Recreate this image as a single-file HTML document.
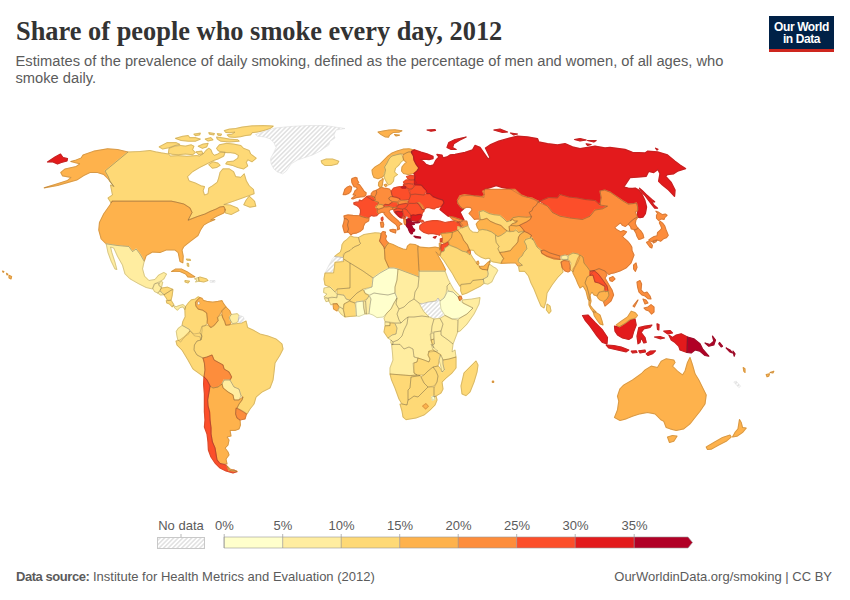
<!DOCTYPE html>
<html>
<head>
<meta charset="utf-8">
<title>Share of people who smoke every day, 2012</title>
<style>
html,body{margin:0;padding:0;background:#fff;}
body{width:850px;height:600px;position:relative;overflow:hidden;font-family:"Liberation Sans",sans-serif;}
#title{position:absolute;left:16px;top:14.7px;font-family:"Liberation Serif",serif;font-weight:bold;font-size:26.4px;line-height:32px;color:#333;white-space:nowrap;letter-spacing:0px;}
#sub{position:absolute;left:15.5px;top:53px;width:740px;font-size:14.7px;line-height:17px;color:#5b5b5b;}
#sub span{display:block;white-space:nowrap;}
#logo{position:absolute;left:769px;top:16px;width:65px;height:33px;background:#002147;border-bottom:3px solid #ce261e;color:#fff;font-weight:bold;font-size:12px;line-height:12px;text-align:center;letter-spacing:-0.4px;}
#logo div{position:absolute;left:0;width:65px;white-space:nowrap;}
#map{position:absolute;left:0;top:0;}
.lg{position:absolute;top:518px;font-size:13px;line-height:15px;color:#5b5b5b;white-space:nowrap;transform:translateX(-50%);}
#foot-l{position:absolute;left:16px;top:569px;font-size:13px;line-height:16px;color:#5b5b5b;white-space:nowrap;}
#foot-l b{letter-spacing:-0.45px;}
#foot-r{position:absolute;right:18px;top:569px;font-size:13px;line-height:16px;color:#5b5b5b;white-space:nowrap;}
</style>
</head>
<body>
<svg id="map" width="850" height="600" viewBox="0 0 850 600">
<defs>
<pattern id="hatch" patternUnits="userSpaceOnUse" width="3.2" height="3.2" patternTransform="rotate(45)">
<rect width="3.2" height="3.2" fill="#fff"/>
<line x1="0.8" y1="0" x2="0.8" y2="3.2" stroke="#dedede" stroke-width="1.4"/>
</pattern>
</defs>
<g id="countries" stroke-linejoin="round">
<!--MAP-->
<path d="M128,152L117.5,149.5L107.5,148.8L93.8,151.2L83,155L81.2,158L76.2,160L70.8,161.5L80,163.8L76.2,166.5L65,169L60.8,172.5L62.5,175.8L71.2,177.5L67.5,180.5L55,184.5L44.2,187.8L57.5,185.5L70,181.8L76.8,180L83.8,175.5L90,172.5L97.5,172.5L103.8,174.5L107.5,178L111.2,183L113.8,186.5L110,181.2L108,176.2L105,171Z" fill="#feb24c" stroke="#feb24c" stroke-width="1.2"/>
<path d="M47.5,162L55,157L60.5,154L63,157.5L67.5,158.5L67,161L61.2,162.5L57.5,164L53,162Z" fill="#e31a1c" stroke="#e31a1c" stroke-width="1.2"/>
<path d="M128,152L140,151.5L150,150.5L155.7,151.9L161.3,152.9L168.4,154L170.5,156.1L178.3,155.7L186.8,156.3L196.7,155.6L199.6,156.1L203.8,153.3L205.9,150.5L208.8,148.3L210.9,149.7L212.3,153.3L214.4,155.4L218,154L220.8,152L225.1,152.3L223.7,156.1L218,159L213.7,160.4L212.3,161.1L206.7,163.9L199.6,167.5L192.5,171.7L187.5,176.7L189,180.9L195.3,183L201,185.9L204.5,186.6L203.1,190.8L204.5,195.1L208.1,193.7L208.8,188L212.3,185.9L217.3,182.3L218.7,178.1L220.1,172.4L222.9,168.9L229.3,168.9L233.6,171.7L235.7,176.7L240.7,177.4L244.2,173.8L246.3,180.9L249.2,185.9L253.4,189.4L254.1,193.7L243.8,197.5L232.5,201.5L223.8,204.5L230,205L237.5,208L239,210.5L231.2,214.5L225.5,213L224.5,209.5L225.5,210L223.7,206.5L220,207L216.2,209L210,211.5L205,214L197.5,216.5L188,220.5L192,212.5L190,208L183.7,204L175.5,202L171.2,201.2L112,201.2L111.2,203L108,198L112.5,195L110.5,185L113.8,186.5L110,181.2L108,176.2L105,171Z" fill="#fed976" stroke="#fed976" stroke-width="1.2"/>
<path d="M249.2,196.2L254.5,201.2L255.8,206.2L250,207.2L243.8,204.8L246.2,200Z" fill="#fed976" stroke="#fed976" stroke-width="1.2"/>
<path d="M208.8,164.6L213,161.8L218,163.2L220.1,165.3L216.6,167.5L212.3,168.2Z" fill="#fed976" stroke="#fed976" stroke-width="1.2"/>
<path d="M216.6,148.3L219.4,144.8L226.5,143.4L233.6,144.1L240.7,145.5L243.5,148.3L249.2,150.5L250.6,154L256.2,158.2L252,161.8L247.7,159.7L246.3,162.5L247.7,166L243.5,168.9L237.8,167.5L232.2,165.3L225.8,163.9L227.2,161.8L233.6,161.1L237.8,158.2L238.5,155.4L235,153.3L230.7,152.6L227.2,152.6L225.1,152.3L220.8,151.9L218,150.5Z" fill="#fed976" stroke="#fed976" stroke-width="1.2"/>
<path d="M168.4,153.3L169.1,148.3L174.8,146.2L180.5,145.5L185.4,146.2L191.1,144.8L193.9,146.2L192.5,149.7L195.3,152.6L192.5,154.7L185.4,154L178.3,154.7L172.7,154.3Z" fill="#fed976" stroke="#fed976" stroke-width="1.2"/>
<path d="M159.2,146.9L167,142.7L176.2,142.7L179.7,144.4L174.8,145.5L169.1,147.6L162.7,149Z" fill="#fed976" stroke="#fed976" stroke-width="1.2"/>
<path d="M198.2,146.2L203.1,144.1L208.1,143.4L206.7,146.9L202.4,148.3Z" fill="#fed976" stroke="#fed976" stroke-width="1.2"/>
<path d="M196,151.9L201.7,151.2L203.1,153.7L198.9,154.7Z" fill="#fed976" stroke="#fed976" stroke-width="1.2"/>
<path d="M175.5,138.4L182.6,136.3L188.2,135.6L189.7,137.7L195.3,137.7L200.3,139.1L195.3,141.2L188.2,141.2L181.2,140.5Z" fill="#fed976" stroke="#fed976" stroke-width="1.2"/>
<path d="M205.2,139.1L210.9,137.7L213,139.8L208.1,141Z" fill="#fed976" stroke="#fed976" stroke-width="1.2"/>
<path d="M216.6,137L223.7,138.1L229.3,139.1L237.8,139.8L239.2,141.2L229.3,142L220.8,141.2L217.3,139.1Z" fill="#fed976" stroke="#fed976" stroke-width="1.2"/>
<path d="M193.9,134.2L200.3,133.2L199.6,134.9L195.3,135.6Z" fill="#fed976" stroke="#fed976" stroke-width="1.2"/>
<path d="M208.8,132.7L214.4,133.5L213.7,134.9L209.5,134.2Z" fill="#fed976" stroke="#fed976" stroke-width="1.2"/>
<path d="M217.3,133.7L221.5,134.2L220.8,135.6L218,135.2Z" fill="#fed976" stroke="#fed976" stroke-width="1.2"/>
<path d="M224.4,130.6L229.3,129.2L235.7,128.5L242.1,127.1L252,125.9L263.3,125.7L270,125.9L273.2,126.2L270,128.5L263.3,130.6L257.6,132L252,132.7L250.6,134.9L244.9,135.6L240.7,136.7L235,137.3L229.3,137L227.2,134.9L232.2,134.2L235,132L229.3,132.7L225.8,132.5Z" fill="#fed976" stroke="#fed976" stroke-width="1.2"/>
<path d="M112,201.2L171.2,201.2L175.5,202L183.8,204L190,208L192,212.5L188,220L197.5,216.5L205,214L210,211.5L216.2,209L220,207L223.8,206.5L225.5,210L223.8,213L216.2,216.5L210.5,220L215,219.5L208,222.5L203.8,225L200.5,230L198,235.5L190,241.5L183.8,246.5L182,250L183.2,256.2L182.8,262.8L180,261.5L178.2,252.5L175,250L166.2,250L160,252.5L152.5,252L146.2,255.5L144.2,261.2L140,254L136.2,249L132.5,251.5L128.8,246.5L117.5,245.5L106.2,243.8L101.2,238.8L98.8,230L99.5,222.5L103.8,213.8L110,205Z" fill="#feb24c" stroke="#feb24c" stroke-width="1.2"/>
<path d="M106.2,243.8L108,252.5L111.2,261.2L115,269L116.8,269.5L115,262.5L111.8,252.5L110.5,247L113.8,248L117.5,256.2L122.5,265L125,273.8L130,278.8L138.8,283.8L146.2,287.5L152.5,289L154,284L160,281.5L163.8,279L166.5,274L163.8,272.5L158.8,275L155,279.5L148.8,280.5L144.5,276.2L142.5,268.8L144.2,261.2L140,254L136.2,249L132.5,251.5L128.8,246.5L117.5,245.5Z" fill="#ffeda0" stroke="#ffeda0" stroke-width="1.2"/>
<path d="M152.7,288.1L155.3,283.5L159.1,283L158.8,285.3L161.4,287.6L159.9,290.7L157.6,293L154.5,291.5Z" fill="#ffeda0" stroke="#ffeda0" stroke-width="1.2"/>
<path d="M159.1,283L161.4,281.5L162.7,282.3L161.4,287.5L158.8,285.3Z" fill="#ffeda0" stroke="#ffeda0" stroke-width="1.2"/>
<path d="M161.4,288.1L167.6,287.2L172.6,289.2L170.2,290.8L166.8,293L164,294.7L162.2,292.7L159.9,290.7Z" fill="#fed976" stroke="#fed976" stroke-width="1.2"/>
<path d="M157.6,293L159.9,291.2L162.5,293L163.7,294.7L160.7,295Z" fill="#ffeda0" stroke="#ffeda0" stroke-width="1.2"/>
<path d="M164,294.8L170.2,290.8L172.9,289.6L172.2,295.3L171.1,300L167.6,300.4L166,297.6Z" fill="#fed976" stroke="#fed976" stroke-width="1.2"/>
<path d="M166.3,300.7L171.1,300.4L173.7,304.6L172.2,306.9L169.6,304L166.8,303Z" fill="#fed976" stroke="#fed976" stroke-width="1.2"/>
<path d="M172.9,305L176,306.8L179.1,305.6L182.9,304.5L185.5,306.8L184.9,309.6L182.9,306.8L179.8,307.7L177.5,310.2L174.8,308Z" fill="#ffeda0" stroke="#ffeda0" stroke-width="1.2"/>
<path d="M171.5,271.5L175.7,269L181.4,269L187.1,271.8L192.7,275.4L194.9,276.8L191.3,277.2L187.8,276.8L185.7,274L180,271.5L175,271.1Z" fill="#feb24c" stroke="#feb24c" stroke-width="1.2"/>
<path d="M185,280.5L189.5,281.2L188,283L185,282Z" fill="#fed976" stroke="#fed976" stroke-width="1.2"/>
<path d="M194.5,278.8L198.5,277.5L199,281.2L195.5,282L197,280Z" fill="#ffeda0" stroke="#ffeda0" stroke-width="1.2"/>
<path d="M198.5,277.5L200,277L206.2,278.8L208,280.5L203.8,282L199,281.2Z" fill="#fed976" stroke="#fed976" stroke-width="1.2"/>
<path d="M210,280.5L215,280.5L215,282.2L210,282.2Z" fill="url(#hatch)" stroke="#ddd" stroke-width="0.6"/>
<path d="M186.4,259.1L190.2,259.4L190.5,260.5L187.1,260.2Z" fill="#fed976" stroke="#fed976" stroke-width="1.2"/>
<path d="M187.1,263.3L188.5,263.6L188.8,266.4L187.4,265.9Z" fill="#fed976" stroke="#fed976" stroke-width="1.2"/>
<path d="M9,275.3L11.6,276.6L11,279L9,278Z" fill="#feb24c" stroke="#feb24c" stroke-width="1.2"/>
<path d="M6.5,273.4L8,274.2L7,275Z" fill="#feb24c" stroke="#feb24c" stroke-width="1.2"/>
<path d="M2.5,271L4,271.6L3.2,272.4Z" fill="#feb24c" stroke="#feb24c" stroke-width="1.2"/>
<path d="M202,326L207,325L212,327.6L214.3,325.2L218.1,320.6L217.7,317.8L220.1,315.2L222,314.8L222.7,317.5L224.7,321.4L225.8,325.2L231,324.4L237,323.6L242,323L246,321L247.6,327.6L253,330L260,334L268,336L276,339L282,344L283,349L280,355L275,363L274,372L273,380L270,388L262,392L256,397L254,404L250,409L247,414L243,411L237,408L239,404L242,400L243,397L241,395.6L239,389L234,387L230,380L231.6,377L229,372L224,369L223,365L214,360L212,355L207,357L203,358L197,355L194,350L194.4,345L197,341L201,340L202,336L200,332.4L201,329Z" fill="#fed976" stroke="#fed976" stroke-width="1.2"/>
<path d="M184.9,309.6L185.5,306.8L188.3,303L191.3,299.9L195.2,299.1L198.2,296.8L199.8,297.6L197.5,299.9L195.6,302.2L195.9,306L198.2,309.1L202.8,310.2L206.7,312.9L207.4,319.1L206.7,323.7L205.1,326L202.1,326.7L202.1,330.6L200.8,339.8L199.8,336.7L194.4,335.9L191.3,332.1L189,329L186,327.5L182.1,325.2L182.9,321.4L185.2,316.8Z" fill="#fed976" stroke="#fed976" stroke-width="1.2"/>
<path d="M199.8,297.6L202.1,298.4L203.3,300.4L206.7,301.4L212.8,302.2L218.1,301.4L222,300.7L223.2,303L225.8,306.8L222,310.6L219.7,314.5L217.4,317.5L218.1,320.6L214.3,325.2L210.5,327.5L207.4,322.9L207.4,319.1L206.7,312.9L202.8,310.2L198.2,309.1L195.9,306L195.6,302.2L197.5,299.9Z" fill="#feb24c" stroke="#feb24c" stroke-width="1.2"/>
<path d="M197.9,301.9L199.3,301.4L199.8,303.7L198.5,305L197.6,303.7Z" fill="#ffffff" stroke="none"/>
<path d="M225.8,306.8L229.6,310.6L231.2,314.5L229.3,317.5L231.2,322.1L229.6,324.9L225.8,325.2L224.7,321.4L222.7,317.5L222,314.5L222,310.6Z" fill="#feb24c" stroke="#feb24c" stroke-width="1.2"/>
<path d="M231.2,314.5L237.3,313.7L239.2,316L238.1,321.4L235.8,322.9L232.7,323.7L229.6,319.1L229.6,316.8Z" fill="#ffeda0" stroke="#ffeda0" stroke-width="1.2"/>
<path d="M239.2,315.2L243.4,316.8L244.2,319.1L241.1,322.9L238.5,322.1L238.1,319.1Z" fill="url(#hatch)" stroke="#ddd" stroke-width="0.6"/>
<path d="M182.1,325.5L186,327.5L189.8,329.8L189,333.6L186,335.9L182.9,339L180.6,342.1L177.8,339.8L176.8,335.2L176.3,331.3L178.3,328.3Z" fill="#ffeda0" stroke="#ffeda0" stroke-width="1.2"/>
<path d="M176,341L180,340L184,337L190,331L194,334L200,333L202,336L201,340L197,341L194.4,345L194,350L197,355L203,358L204.4,363L205,370L204,377L200,374L193,369L188,360L182,350L177,345Z" fill="#fed976" stroke="#fed976" stroke-width="1.2"/>
<path d="M203,358L207,357L212,355L214,360L223,365L224,369L229,372L231.6,377L230,380L224,380L222,384L218,387L213,388L210,386L207,380L204,377L205,370L204.4,363Z" fill="#fd8d3c" stroke="#fd8d3c" stroke-width="1.2"/>
<path d="M224,380L230,380L234,387L239,389L241,395.6L239,400L234,400L233,395L228,392L223,388L222,384Z" fill="#ffeda0" stroke="#ffeda0" stroke-width="1.2"/>
<path d="M213,388L218,387L222,384L223,388L228,392L233,395L234,400L239,400L243,397L242,400L239,404L237,408L236,409L235.6,414L237,418L240,420L240.4,425L239,429L235,430.4L230,430.4L231,436L227,437L229,440L228,445L225,448L228,452L229,455L226,459L227,464L220,463.6L217,460L216,454L215,448L212.4,442L211,434L211,428L210,420L209.6,412L208,406L207.6,400L209,392L210,386Z" fill="#feb24c" stroke="#feb24c" stroke-width="1.2"/>
<path d="M204,377L207,380L210,386L209,392L207.6,400L208,406L209.6,412L210,420L211,428L211,434L212.4,442L215,448L216,454L217,460L220,463.6L226,465L227,467L230,470.4L234,470L237,471.6L233,473L226,471L220,468L215,463L211,457L208.4,450L208,442L207,434L204.4,427L205,420L204.4,412L204.4,400L204.4,394L203.6,384Z" fill="#fc4e2a" stroke="#fc4e2a" stroke-width="1.2"/>
<path d="M227,466L230,469L237,471.4L233,471L229,470.4Z" fill="#feb24c" stroke="#feb24c" stroke-width="1.2"/>
<path d="M236,408L240,410L246.4,414L245,419L240,420L237,418L235.6,414Z" fill="#fd8d3c" stroke="#fd8d3c" stroke-width="1.2"/>
<path d="M255.5,134.5L262.5,132L275,128L290,126.5L307.5,125.5L325,125.5L335,127L345,128.5L336.2,130L333.8,135L335,138L330,141.2L328.8,145L325,147.5L320,151.2L312.5,155L305,157.5L297.5,160L291.2,163.8L286.2,171.2L282.5,173.8L277.5,172L273.8,168.8L271.2,163.8L270.5,158.8L273.8,152.5L276.2,147.5L273.8,142.5L270,138.8L265,137L257.5,136.2Z" fill="url(#hatch)" stroke="#ddd" stroke-width="0.6"/>
<path d="M321.2,160.8L326.2,159L332.5,159L338.8,161.2L337.5,163.8L331.2,165.5L325,165.5L322,163.2Z" fill="#fed976" stroke="#fed976" stroke-width="1.2"/>
<path d="M378,132L383,131L389,130L395,129.8L402,130.8L399,132.2L393,132.5L389.5,135L388.5,137.2L385,136.8L381,134.5Z" fill="#feb24c" stroke="#feb24c" stroke-width="1.2"/>
<path d="M394.5,134.5L399.5,135.2L396,136Z" fill="#feb24c" stroke="#feb24c" stroke-width="1.2"/>
<path d="M372,170L375,167L380,164L384,160L388,156L392,153L397,151L403,149.2L409,148.8L414.5,150L411.5,151.5L412,153.2L409,151.8L406,153L404,154.5L401,153.5L397,154.5L391.5,156L389,159L386.5,164L384.5,167L385.5,170L385,174L382.5,177L378,178.8L374,177.5L372.5,174Z" fill="#feb24c" stroke="#feb24c" stroke-width="1.2"/>
<path d="M391.5,156.2L397,154.7L401,154L403,157L403.5,160L401,162L399,165L395.5,168L394.5,172L397,174.5L397.5,174.5L394,177L393.5,181L391,184L388.5,185L386.5,182L384.5,178L384,174L385.5,170L384.5,167L386.5,164L389,159Z" fill="#fed976" stroke="#fed976" stroke-width="1.2"/>
<path d="M403.3,154.3L406,153L409,151.8L411.5,151.8L412,153.5L413.5,156L414,160L416,164L419,168L417,171L414,173.5L408,174.5L403.5,173.5L401.5,171L402,167L404.5,164L406.5,162L404,160.5L403,157.2Z" fill="#feb24c" stroke="#feb24c" stroke-width="1.2"/>
<path d="M343.2,194.5L344.2,191.6L344.9,189.2L347.4,187.1L349.9,186L351.6,187.1L351.3,189.2L350.6,191.6L348.8,193.4L346,194.5Z" fill="#fd8d3c" stroke="#fd8d3c" stroke-width="1.3"/>
<path d="M352,178.5L355,177.5L357,178L357.2,180L358.7,182.5L357.3,184.2L359.4,184.6L361.2,187.1L362.9,189.5L364.3,191.6L366.1,192.7L365.8,195.2L364,196.6L360.5,196.9L356.2,197.6L353.1,198.9L351.6,198.5L354.1,196.6L355.9,195.2L353.1,194.8L354.1,193.1L355.2,190.6L357.3,189.2L356.6,187.1L354.1,186.7L353.1,184.9L352,182.8L351.6,180Z" fill="#fd8d3c" stroke="#fd8d3c" stroke-width="1.3"/>
<path d="M353.8,202.9L356.2,202.2L359.1,201.9L359.4,200.1L361.9,200.8L364.3,198.7L366.8,196.6L368.2,197.6L370.3,198.7L372.1,200.1L374.6,200.5L376,201.5L378.5,202.2L377.8,204L376.7,205.8L375.6,207.2L376.7,208.2L377.4,210.3L377.1,212.1L378.5,213.5L376.7,215.6L373.9,216L371.1,215.3L369.3,217.1L366.8,217.8L363.3,217.1L360.5,216.3L359.8,215.3L360.5,212.5L360.5,209.6L359.1,207.2L356.9,205.4L354.1,204.3Z" fill="#fc4e2a" stroke="#fc4e2a" stroke-width="1.3"/>
<path d="M381.3,218.1L382.7,217.1L383,219.5L382.2,220.9L381.3,219.9Z" fill="#fc4e2a" stroke="#fc4e2a" stroke-width="1.3"/>
<path d="M344,216L348,215L353,215.5L360,215.8L365,217.5L369,218.5L368.5,221L365,223L363.5,226L363,229L360,231.5L356.5,233L352.5,233.5L351,235L349.5,233L347.5,232L348.5,229L347.5,225L348.5,221L347,219L344.5,218.5Z" fill="#fd8d3c" stroke="#fd8d3c" stroke-width="1.3"/>
<path d="M344.5,218.5L347,219L348.5,221L347.5,225L348.5,229L347.5,232L344.5,232.5L343.5,229L342.8,226L344,222Z" fill="#fd8d3c" stroke="#fd8d3c" stroke-width="1.3"/>
<path d="M366.8,196.6L368.2,196.1L371.1,195.9L373.5,196.6L374.9,198L375.3,200.1L374.6,200.5L372.1,200.1L370.3,198.7L368.2,197.6Z" fill="#fc4e2a" stroke="#fc4e2a" stroke-width="1.3"/>
<path d="M371.1,195.9L371.4,193.4L373.2,191.3L376.3,190.4L376.7,192.4L376,194.8L374.9,196.6L374.9,198L373.5,196.6Z" fill="#fd8d3c" stroke="#fd8d3c" stroke-width="1.3"/>
<path d="M376.3,190.4L379.5,188.5L381.3,187.4L383.8,188.1L386.6,188.5L389.4,189.2L391.2,191.3L391.9,194.8L392.9,196.6L390.8,196.6L388.7,198L389.4,199.8L392.2,201.5L390.8,203.3L388.7,204.7L385.2,204.3L383,204.8L380.9,204.3L378.5,204L378.5,202.2L376,201.5L374.6,200.5L375.3,200.1L374.9,198L374.9,196.6L376,194.8L376.7,192.4Z" fill="#fd8d3c" stroke="#fd8d3c" stroke-width="1.3"/>
<path d="M378.5,185.3L378.8,182.5L380.2,180.7L382,180L382.3,178.6L383.2,178.9L382.7,182.1L382.3,184.9L381.6,187.1L379.9,187.4Z" fill="#feb24c" stroke="#feb24c" stroke-width="1.3"/>
<path d="M384.1,184.9L386.2,184.2L387.1,185.6L385.5,186.5Z" fill="#feb24c" stroke="#feb24c" stroke-width="1.3"/>
<path d="M375.6,207.2L376.7,205.8L378.5,204.7L380.9,204.5L383,205.1L384.1,206.5L383,207.9L380.6,208.6L378.8,209.3L377.1,208.6Z" fill="#feb24c" stroke="#feb24c" stroke-width="1.3"/>
<path d="M383.8,205.8L385.2,204.5L388.7,204.8L390.8,203.4L393.6,201.7L396.5,202L398.6,203.3L398.2,205.8L396.5,207.2L392.9,207.5L389.4,206.5L386.6,206.8L384.5,206.8Z" fill="#fc4e2a" stroke="#fc4e2a" stroke-width="1.3"/>
<path d="M388.7,198L390.8,196.6L392.9,196.6L396.5,197.3L400,198.7L398.9,200.8L396.5,201.9L393.6,201.5L392.2,201.5L389.4,199.8Z" fill="#fd8d3c" stroke="#fd8d3c" stroke-width="1.3"/>
<path d="M391.2,191.3L393.6,188.1L397.2,187.1L400,186.7L401,187L408,188.5L409.5,193L410.5,196.5L409,199.5L404,200L400,200L400,198.7L396.5,197.3L392.9,196.6L391.9,194.8Z" fill="#fc4e2a" stroke="#fc4e2a" stroke-width="1.3"/>
<path d="M398,202.2L401,200.5L408,201L407.5,203L403,204L399.5,204.5L397.5,203.8Z" fill="#fd8d3c" stroke="#fd8d3c" stroke-width="1.3"/>
<path d="M396.5,205.9L398.5,205L402.1,204.1L405.6,203.5L408.2,203.8L407.6,205.3L406.8,206.8L404.7,208.2L402.6,208.8L400.6,208.8L397.9,208.2L397.1,207.4Z" fill="#fc4e2a" stroke="#fc4e2a" stroke-width="1.3"/>
<path d="M392.9,207.7L396.5,207.3L397.2,208.6L395,209.6L392.6,209.3Z" fill="#fd8d3c" stroke="#fd8d3c" stroke-width="1.3"/>
<path d="M393.8,210L395.6,208.8L397.9,208.2L400.6,208.8L402.6,209.4L402.6,211.5L400.9,211.8L397.9,211.5L395.3,211.8L396.2,213.2L397.6,214.7L399.1,216.5L400.9,217.4L402.1,218.2L400.3,217.6L398.2,215.9L396.2,214.1L394.7,212.4L394.1,211.2Z" fill="#fc4e2a" stroke="#fc4e2a" stroke-width="1.3"/>
<path d="M395.3,211.8L397.9,211.5L400.9,211.8L402.6,211.5L402.6,213.5L403.2,215.3L402.4,216.5L400.9,217.4L399.1,216.5L397.6,214.7L396.2,213.2Z" fill="#e31a1c" stroke="#e31a1c" stroke-width="1.3"/>
<path d="M402.6,209.4L404.7,208.8L406.8,209.7L408.2,211.8L409.7,213.5L410.9,215.4L411.2,217.4L410.6,218.8L408.5,218.7L407.1,217.6L406.2,216.8L405.3,217.4L404.4,216.8L403.8,214.7L403.2,212.4L402.6,210.9Z" fill="#fc4e2a" stroke="#fc4e2a" stroke-width="1.3"/>
<path d="M406.1,216.9L407.2,216.8L408.1,217.9L407.2,218.8L406.2,218.4Z" fill="url(#hatch)" stroke="#ddd" stroke-width="0.6"/>
<path d="M402.4,216.5L403.8,215.9L405,217.1L404.7,218.2L403.8,219.1L402.9,217.9Z" fill="#fc4e2a" stroke="#fc4e2a" stroke-width="1.3"/>
<path d="M404.1,219.1L405.6,218.8L406.5,220L406.8,221.9L406.9,223.5L405.9,224.7L404.7,224.4L404.1,222.4L403.9,220.6Z" fill="#fd8d3c" stroke="#fd8d3c" stroke-width="1.3"/>
<path d="M406.5,219.7L408.2,218.8L410.3,219.1L411.5,220.3L410.9,221.5L408.5,222.1L406.8,221.8Z" fill="#b10026" stroke="#b10026" stroke-width="1.3"/>
<path d="M406.8,221.9L408.5,222.2L410.9,221.6L412.1,222.1L414.4,222.4L416.8,221.8L419.1,220.9L420.3,221.5L419.1,222.6L417.1,222.9L415,222.6L413.2,223.2L414.4,224.4L412.6,224.7L411.5,223.8L410.9,224.7L412.1,226.5L412.9,228.2L414.7,229.7L414.4,230.9L412.6,231.8L412.4,233.5L411.2,233.8L409.7,232.1L408.8,230L408.2,228.2L407.1,226.8L406.2,225.3L406.8,223.5Z" fill="#b10026" stroke="#b10026" stroke-width="1.3"/>
<path d="M414,236.2L417,236.6L420.5,237.2L420.5,238.1L416,237.7Z" fill="#b10026" stroke="#b10026" stroke-width="1.3"/>
<path d="M377.4,210.3L377.1,208.6L378.8,209.3L380.6,208.6L383,207.9L384.5,207L386.6,207L389.4,206.6L392.9,207.7L392.6,209.3L390.5,209.6L389,211.1L390.1,213.2L392.6,216L395.8,218.8L398.6,221.3L399,222L402,224L400,224.5L399,226.5L399.5,229L397.5,229.8L397.5,227L396,224.5L392,221.5L389,219L386,216L384,213.5L384.5,212.5L381.6,212.1L379.5,213.2L378.5,213.5L377.1,212.1Z" fill="#fd8d3c" stroke="#fd8d3c" stroke-width="1.3"/>
<path d="M389.8,230L393,229.5L396,229.8L395.5,233L393,232.2L390.5,231.2Z" fill="#fd8d3c" stroke="#fd8d3c" stroke-width="1.3"/>
<path d="M380.5,222.5L383,222L383.7,224.5L383.3,227L381.2,227.2Z" fill="#fd8d3c" stroke="#fd8d3c" stroke-width="1.3"/>
<path d="M406.5,176.5L410,175.5L415,176L415,179.5L411,180L408,179Z" fill="#fc4e2a" stroke="#fc4e2a" stroke-width="1.3"/>
<path d="M403.5,182L406,180L411,180L415,180L416.5,183L413,184L408.5,183.5L404.5,184Z" fill="#fc4e2a" stroke="#fc4e2a" stroke-width="1.3"/>
<path d="M403.5,184.5L408.5,183.7L413,184.2L414,186.5L412,189L408,188.5L406,186.5L403.5,186Z" fill="#fc4e2a" stroke="#fc4e2a" stroke-width="1.3"/>
<path d="M401,187L404,186L406,187L405.5,188.2L402,188.2Z" fill="#e31a1c" stroke="#e31a1c" stroke-width="1.3"/>
<path d="M409.5,189.5L412,189L414,186.5L416.5,184L421.5,185L424,188L426.5,190.5L425,193L424,195L420,194.5L415,194L410.5,194.5L410,191.5Z" fill="#fc4e2a" stroke="#fc4e2a" stroke-width="1.3"/>
<path d="M409,200L410.5,195L415,194.2L420,194.7L424,195.2L426.5,193.5L430,193.5L433,196.5L438,198.5L443,200L444,203L442,206L439,207L436,207.5L434.5,208.8L432,208.5L428.5,207.5L426.5,207.5L423.5,210L421.5,207.5L419.5,204L417,203L413,203.5L410,203.5L408.5,202.5Z" fill="#fc4e2a" stroke="#fc4e2a" stroke-width="1.3"/>
<path d="M417.1,202.9L419.1,202.6L421.2,204.4L422.9,206.5L424.1,208.8L423.8,209.7L421.8,209.4L420.9,207.6L419.1,205Z" fill="#fd8d3c" stroke="#fd8d3c" stroke-width="1.3"/>
<path d="M406.8,206.8L408.2,203.8L410.9,203.2L414.4,203.5L417.1,202.9L419.1,205L420.9,207.6L421.8,209.4L424.1,209.7L423.8,211.5L422.4,212.6L421.8,215L420.3,214.4L417.9,214.7L415.6,215.3L413.2,215L410.9,215.4L409.7,213.5L408.2,211.8L406.8,209.7L404.7,208.8Z" fill="#fc4e2a" stroke="#fc4e2a" stroke-width="1.3"/>
<path d="M410.9,215.6L413.2,215L415.6,215.3L417.9,214.7L420.3,214.4L421.8,215.3L421.2,217.1L420.6,218.8L419.7,220L417.9,220.9L416.2,221.2L413.8,220.9L411.8,220.3L410.6,218.9L411.2,217.4Z" fill="#e31a1c" stroke="#e31a1c" stroke-width="1.3"/>
<path d="M414.5,150L421,152.2L427,154L433,156.5L433,158.5L429,159.5L424,159L420.5,159.5L423.5,161.8L426,164.5L430,166L433.5,165L435.5,161L437,159L439,157L437,154.5L442,155.2L443,158L447,157L450,155L455,154.5L465,152.5L472.5,150L475,145.5L480,147.5L488,159L490,157.5L485.5,148L490,145L498.7,141.2L507.5,138.7L517.5,136.2L527.5,137L537.5,138.7L538.7,142L547.5,143.7L557.5,145L565,143.7L572.5,147L580,148.7L587.5,147.5L595,146.2L605,148L610,147.5L625,149.5L632.5,152.5L645,153L647.5,151.2L657.5,152L667.5,155L675,161.2L680,165L685.5,168.7L677.5,171.2L673.7,173.7L667.5,174.5L665.5,176.2L671.2,182.5L675,190L674.5,196.2L668.7,190L662.5,185L658.7,181.2L660,173.7L658,169.5L653.7,172.5L648.7,171.2L646.2,176.2L637.5,177L630,177.5L625,185L623.5,187L628.2,188.2L632.4,188.5L635.3,188.2L638.8,190L641.8,194.1L644.7,200L646.5,207L645.3,213.5L642.9,217L640,217.6L637.6,217L637.6,210.6L637.6,207L636.5,203L634.1,203.5L628.2,204.1L622.4,200.6L616.5,196.5L610.6,192.4L604.7,190L600,190.6L601.2,197.5L600,205L595,200.5L585,199.5L577.5,198L568.7,197L560,194.5L557.5,198L548.7,197.5L540,201.2L538.7,202.5L535,200L528.7,197.5L522.5,196.2L516.2,192.5L510,188.7L502.5,187.5L496.2,185.5L488.7,188L484.5,189L484,197.5L470,195L461.2,196.2L457,201.2L460,206.2L462.5,208.7L464,208.5L460,212L461,214L464,220L460,219.5L456,218L451,216.5L448,216L443,212L440,209.5L442,206L444,203L443,200L438,198.5L433,196.5L430,193.5L427,193.6L426.5,190.5L424,188L421.5,185L416,184.8L414.5,184.8L414.5,180L415,176L414,173.5L417,171L419,168L416,164L414,160L413.5,156L412,153.5L411.5,151.5Z" fill="#e31a1c" stroke="#e31a1c" stroke-width="1.4"/>
<path d="M447,147.5L448.8,142.5L455,139.5L466.2,137L460,140L453.8,143.8L452.5,147.5L456.2,149.5L451.2,149.5Z" fill="#e31a1c" stroke="#e31a1c" stroke-width="1.2"/>
<path d="M493.8,130L500,129L507.5,132L502.5,132.5Z" fill="#e31a1c" stroke="#e31a1c" stroke-width="1.2"/>
<path d="M510.5,133L517.5,134L513.8,135Z" fill="#e31a1c" stroke="#e31a1c" stroke-width="1.2"/>
<path d="M574.5,139.5L580,138.5L586.2,140L580,141Z" fill="#e31a1c" stroke="#e31a1c" stroke-width="1.2"/>
<path d="M587.5,140.5L596.2,140.5L593.8,142Z" fill="#e31a1c" stroke="#e31a1c" stroke-width="1.2"/>
<path d="M586.2,143.8L591.2,144.5L587.5,145.5Z" fill="#e31a1c" stroke="#e31a1c" stroke-width="1.2"/>
<path d="M427,130L435,129.5L435.5,130.5L431,131.2Z" fill="#e31a1c" stroke="#e31a1c" stroke-width="1.2"/>
<path d="M639.4,188.2L642.4,190.6L647.1,195.3L651.8,199.4L654.7,201.8L651.8,201.8L654.1,205.3L657.6,208.2L654.7,208.2L651.8,204.7L648.8,200.6L645.3,195.9L641.8,192.4Z" fill="#e31a1c" stroke="#e31a1c" stroke-width="1.2"/>
<path d="M655.5,148.2L658,149.2L657,150Z" fill="#e31a1c" stroke="#e31a1c" stroke-width="1.2"/>
<path d="M419.8,226L421.5,224.2L423.5,222.9L427,221.6L433,220.6L437,220.6L440,221.2L445,222.5L450,221.7L456,220.5L458.4,222.3L460.7,225L461,228L458,230L453.6,232L451.6,232.3L445.6,233L441,233L439.6,235.2L437.3,234.5L432,233.4L428,233.8L424,232.4L421.5,230.8L419.8,229Z" fill="#fc4e2a" stroke="#fc4e2a" stroke-width="1.2"/>
<path d="M419.1,220.9L420.3,220L422.6,220.3L423.8,221.5L421.8,222.1L420.3,221.5Z" fill="#fc4e2a" stroke="#fc4e2a" stroke-width="1.2"/>
<path d="M433.3,237.4L436.3,236.3L435.1,238.1Z" fill="#e31a1c" stroke="#e31a1c" stroke-width="1.2"/>
<path d="M449.4,216.3L453.9,217.3L459.9,219.3L462.9,220.8L459.9,221.9L456.1,221.6L452.4,219.3Z" fill="#fd8d3c" stroke="#fd8d3c" stroke-width="1.2"/>
<path d="M456.9,222.3L459.9,221.9L462.9,225.3L461.4,226.1L458.9,224.6Z" fill="#fc4e2a" stroke="#fc4e2a" stroke-width="1.2"/>
<path d="M460.3,222.4L463.2,220.8L466.8,221.2L467.9,225.3L465.6,226.5L462.1,227.6L460.9,225.3Z" fill="#fd8d3c" stroke="#fd8d3c" stroke-width="1.2"/>
<path d="M457.4,200.6L459.7,195.9L464.4,194.7L473.8,195.9L482.6,196.5L484.4,194.7L482.6,191.2L485.6,189.4L515,189.4L520.9,194.7L526.8,197.1L532.6,198.2L538.5,201.2L536.2,205.3L533.2,207.6L532.1,210.6L529.1,212.4L531.5,216.5L526.8,217.1L518.5,216.5L513.2,217.6L509.7,220.8L506.8,221.8L503.2,218.2L499.7,215.3L493.8,214.7L489.1,213.5L483.2,210.6L479.1,211.8L480.3,219.4L477.9,218.8L474.4,219.4L471.5,215.9L469.1,213.5L472.1,210L470.9,207.6L466.8,207.1L463.2,208.8L460.3,206.5L457.9,203.5Z" fill="#fd8d3c" stroke="#fd8d3c" stroke-width="1.2"/>
<path d="M479.1,211.8L483.2,210.6L489.1,213.5L493.8,214.7L499.7,215.3L503.2,218.2L506.8,221.8L509.7,220.8L512.6,219.4L515,221.2L517.4,220.8L516.2,222.4L512.6,223.5L510.3,225.3L509.1,226.5L509.7,231.2L506.8,230.6L503.8,228.2L500.9,225.3L495.6,223.5L490.3,221.2L486.8,218.2L483.2,219.4L480.3,219.6Z" fill="#fed976" stroke="#fed976" stroke-width="1.2"/>
<path d="M476.2,224.1L477.9,221.8L480.3,220L483.2,219.6L486.8,218.5L490.3,221.4L495.6,223.8L500.9,225.5L503.8,228.5L506.8,230.8L504.4,232.9L500.9,235.3L497.9,236.5L495.6,234.7L491.5,231.8L486.8,230L482.6,229.4L479.1,230L477.4,227.6Z" fill="#feb24c" stroke="#feb24c" stroke-width="1.2"/>
<path d="M512.6,217.6L518.5,216.7L526.8,217.3L531.5,216.8L530.3,219.4L526.8,221.8L523.2,223.5L519.7,225.3L516.2,225.9L512.6,225.3L510.9,225.3L512.6,223.8L516.2,222.6L517.4,220.8L515,221.2L512.6,219.4L510.3,220.8Z" fill="#feb24c" stroke="#feb24c" stroke-width="1.2"/>
<path d="M509.1,226.7L510.9,225.5L516.2,226.1L519.7,225.5L521.5,227.4L523.2,229.4L524.4,231.2L520.9,231.4L518.5,232.4L516.2,230.6L513.8,231.2L509.7,231.4Z" fill="#feb24c" stroke="#feb24c" stroke-width="1.2"/>
<path d="M457.9,226.5L462.1,228.2L465.6,226.5L467.9,225.9L469.7,229.6L472.6,232L477.9,232.6L479.1,230.2L482.6,229.6L486.8,230.2L491.5,232L495.6,234.9L495.6,238.2L496.2,242.4L499.1,246.5L497.9,248.8L499.7,252.4L502.1,255.9L503.7,258.7L501.9,260.5L500.9,263.3L497.3,262.6L493.1,261.9L490.6,260.8L489.9,258.5L488.2,258.2L485.3,258.8L481.5,257.4L478.3,255.5L475.5,253.4L473.7,250.3L470.2,249.9L469.1,249.5L467.4,244.9L463.7,240.4L461.4,235.1L457.7,230.3Z" fill="#fed976" stroke="#fed976" stroke-width="1.2"/>
<path d="M495.6,235.3L497.9,236.7L500.9,235.5L504.4,233.2L506.8,231.2L509.7,231.8L513.8,231.4L515.9,229.4L518.5,232.6L524.4,231.4L520.3,234.1L518.5,237.1L517.9,241.8L515.6,244.7L513.2,247.1L510.3,250.6L504.4,251.8L499.7,252.4L497.9,248.8L499.1,246.5L496.2,242.4L495.6,238.2Z" fill="#fed976" stroke="#fed976" stroke-width="1.2"/>
<path d="M499.7,252.6L504.4,252L510.3,250.8L513.2,247.3L515.6,244.9L517.9,242L518.5,237.3L520.3,234.4L524.4,231.8L527.9,232.9L531.5,235.3L530.3,238.2L525.6,239.4L524.4,241.8L526.2,245.3L526.8,248.8L523.8,252.4L522.1,255.9L519.1,258.2L517.9,261.5L522.4,265.2L517.9,266L515.6,263L510.4,263L501.3,263.3L503.6,258.5Z" fill="#feb24c" stroke="#feb24c" stroke-width="1.2"/>
<path d="M441.1,233.6L445.6,233.2L452.4,232.4L451.6,237.4L448.6,241.1L444.1,243.4L441.8,241.9L442.6,237.4Z" fill="#feb24c" stroke="#feb24c" stroke-width="1.2"/>
<path d="M440.3,238.9L442.1,238.4L441.8,241.9L440.3,241.9Z" fill="#fc4e2a" stroke="#fc4e2a" stroke-width="1.2"/>
<path d="M439.3,243.4L441.1,242.7L440.8,248.7L439.6,250.2Z" fill="#feb24c" stroke="#feb24c" stroke-width="1.2"/>
<path d="M441.1,244.9L444.8,243.9L448.3,241.9L448.6,244.9L444.8,247.9L444.1,250.9L441.1,252L440.8,247.9Z" fill="#fc4e2a" stroke="#fc4e2a" stroke-width="1.2"/>
<path d="M452.4,232.4L457.7,230.3L461.4,235.1L463.7,240.4L467.4,244.9L469.7,250.2L466.7,252.4L462.2,250.9L456.9,247.9L449.4,244.9L448.6,241.1L451.6,237.4Z" fill="#feb24c" stroke="#feb24c" stroke-width="1.2"/>
<path d="M466.6,251.6L468.4,250.2L470.2,250.6L470.5,253.8L469.1,254.5L467.7,253.1Z" fill="#fd8d3c" stroke="#fd8d3c" stroke-width="1.2"/>
<path d="M441.1,252.4L444.1,251.2L444.8,248.2L449.4,245.4L456.9,248.2L462.2,251.2L466.6,251.9L467.7,253.2L469.1,254.6L470.7,254.3L472.6,257.5L474.8,260.7L476.2,263.1L479,265.5L479.7,267.4L482.2,269.3L485.3,269.6L487.5,270L488.2,273.9L487.5,276.7L482.5,279.5L472.7,280.3L470.5,283.3L461.4,284.1L459.9,286.3L456.1,280.3L452.4,273.5L447.9,266.7L444.1,260.7L440.3,256.2Z" fill="#fed976" stroke="#fed976" stroke-width="1.2"/>
<path d="M460.7,284.8L470.5,283.6L473,280.6L483.3,279.1L484,283.3L480.2,286.3L474.2,289.3L466.7,293.1L462.2,294.6L460.7,290.8Z" fill="#fed976" stroke="#fed976" stroke-width="1.2"/>
<path d="M489.2,264L490.3,264.7L493.1,266.8L495.9,268.2L497.7,270.3L496.3,273.2L494.5,276L493.1,279.2L491.7,282L487.8,284.1L484,283.3L483.3,279.1L482.5,279.5L487.5,276.7L488.2,273.9L487.5,270L488.2,266.8Z" fill="#ffeda0" stroke="#ffeda0" stroke-width="1.2"/>
<path d="M489.6,260.5L490.6,260.8L490.3,262.6L489.4,261.9Z" fill="#ffeda0" stroke="#ffeda0" stroke-width="1.2"/>
<path d="M479.3,266.5L481.5,266.3L483.9,266.1L486.1,264.2L488.2,262.1L489.6,261.5L489.2,264L488.2,266.8L487.5,270L485.3,269.6L482.2,269.3L480.1,268.2Z" fill="#feb24c" stroke="#feb24c" stroke-width="1.2"/>
<path d="M476.9,261.5L478.3,261.2L478.9,263.3L477.9,264.7L476.9,263.6Z" fill="#feb24c" stroke="#feb24c" stroke-width="1.2"/>
<path d="M540,201.2L548.8,197.5L557.5,198L560,194.5L568.8,197L577.5,198L585,199.5L595,200.5L600,205L607.5,206.2L602.5,208.8L595,210L590,216.2L582.5,219.5L570,218L560,216.2L552.5,212.5L547.5,206.2Z" fill="#fc4e2a" stroke="#fc4e2a" stroke-width="1.2"/>
<path d="M538.8,202.5L547.5,206.2L552.5,212.5L560,216.2L570,218L582.5,219.5L590,216.2L595,210L602.5,208.8L607.5,206.2L600,205L601.2,197.5L600,191.2L604.7,190L610.6,192.4L616.5,196.5L622.4,200.6L628.2,204.1L634.1,203.5L636.5,202.9L637.6,207.1L637.6,210.6L635.3,211.8L636.5,215.3L637.4,217.1L634.1,218.8L631.2,221.2L628.2,224.1L625.3,226.5L622.4,225.3L620.6,222.9L618.8,224.1L614.7,227.6L616.5,229.4L620.6,231.8L623.5,230.6L626.5,231.8L625.3,233.5L622.4,236.5L624.7,238.8L627.6,241.2L630,244.1L631.8,247.1L632,250.6L634,255L631,263L626,268L620,271L614,273L611,273.4L609,274.6L605,271L599,268.6L594,270.6L590,271L588,268L584,263L583,257L580,255L578,254L573,253L569,255L565,255L560,256L550,253L544,250L541,250.6L537,247L534,241L532,238L533.2,240L530.3,238.2L531.5,235.3L527.9,232.9L524.4,231.2L523.2,229.4L521.5,227.4L519.7,225.3L523.2,223.5L526.8,221.8L530.3,219.4L531.5,216.8L529.1,212.4L532.1,210.6L533.2,207.6L536.2,205.3L538.5,201.2Z" fill="#fd8d3c" stroke="#fd8d3c" stroke-width="1.2"/>
<path d="M628.2,224.1L631.2,221.2L634.1,218.8L637.1,217.1L637.6,217.6L635.9,220L635.3,223.5L636.5,226.5L638.2,228.2L635.3,230L633.5,229.4L631.2,228.8L630.6,226.5Z" fill="#fd8d3c" stroke="#fd8d3c" stroke-width="1.2"/>
<path d="M634.1,230L638.2,228.5L640.6,230.6L642.9,234.1L643.8,237.6L641.2,238.8L638.8,239.4L637.1,236.5L635.9,232.9Z" fill="#fd8d3c" stroke="#fd8d3c" stroke-width="1.2"/>
<path d="M655.9,211.2L658.8,212.4L662.4,214.7L665.3,214.1L667.1,215.3L664.7,217.6L664.1,219.4L661.2,218.8L658.8,220.6L656.5,218.2L656.5,215.3L657.6,213.5Z" fill="#fd8d3c" stroke="#fd8d3c" stroke-width="1.2"/>
<path d="M660,221.2L662.4,222.9L664.7,225.9L665.9,229.4L667.1,232.4L668.2,235.3L666.5,237.6L663.5,238.8L660.6,241.2L657.6,240L655.3,240.6L652.9,241.8L650.6,241.2L648.8,240L651.2,238.2L654.1,236.5L657.1,235.9L657.6,232.4L660,230.6L661.8,228.2L660.6,225.3L659.4,222.9Z" fill="#fd8d3c" stroke="#fd8d3c" stroke-width="1.2"/>
<path d="M646.5,242.4L648.8,241.2L650.6,242.9L652.4,245.3L651.8,248L650,247.1L648.2,244.7Z" fill="#fd8d3c" stroke="#fd8d3c" stroke-width="1.2"/>
<path d="M652.9,240.6L657.1,240L655.9,241.8L653.5,242.9Z" fill="#fd8d3c" stroke="#fd8d3c" stroke-width="1.2"/>
<path d="M633.6,265L636,263L637,267.4L635.4,271.4L633.6,269Z" fill="#fd8d3c" stroke="#fd8d3c" stroke-width="1.2"/>
<path d="M609.4,278L613,276.6L615,279L612.4,281.4L610,280.6Z" fill="#fd8d3c" stroke="#fd8d3c" stroke-width="1.2"/>
<path d="M525.4,239.6L531.4,237.4L532,238L534,241L537,247L541,250L541.6,253L547,256L554,258L560,259.4L568,259.5L568,256.4L569,255L573,253L578,254L580,257L578,262L575,267L573,272L570,269L571,263L569,260L563,260.6L561,262L562,266L563,272L558,277L552,285L547,293L546,301L544,308L541,306L538,299L534,289L531,283L528.4,275.8L524.7,271.3L519.4,271.3L518.6,266.7L522.4,265.2L517.9,261.5L519.1,258.2L522,255.9L523.8,252.4L526.8,248.8L526.2,245.3L524.4,241.8Z" fill="#fed976" stroke="#fed976" stroke-width="1.2"/>
<path d="M541,251L544,250L550,253L560,256L560,259.4L554,259L547,256.4L542,253.4Z" fill="#fd8d3c" stroke="#fd8d3c" stroke-width="1.2"/>
<path d="M561,256.4L565,255L568.4,256.6L567.6,259.4L562,259.4Z" fill="#ffeda0" stroke="#ffeda0" stroke-width="1.2"/>
<path d="M561,262L564,260.6L569,261.4L570,267L570,271L568,272L565,271L562,267.4Z" fill="#fd8d3c" stroke="#fd8d3c" stroke-width="1.2"/>
<path d="M547,304L550,306L551,311L549,313.4L546.4,310Z" fill="#fed976" stroke="#fed976" stroke-width="1.2"/>
<path d="M578,258L580,255L583,257L584,263L588,268L590,271L594,270.6L590,275L587,277L585,283L587,287L589,294L590,301L588,299L586,291L583,286L580,288L578,284L576,279L573,273L573,269L575,266Z" fill="#feb24c" stroke="#feb24c" stroke-width="1.2"/>
<path d="M587,277.4L590,275.4L593,275L595,282L599,283L605,286L604,291L599,292L597,296L594,295L592,292L590,295L591,301L590,305L593,309L596,312L594,313L591,309L589,305L589,295L587,287L585,283Z" fill="#feb24c" stroke="#feb24c" stroke-width="1.2"/>
<path d="M594,270.6L599,268.6L605,271L607,275L605,278L609,285L612,290L613.6,295L611,301L605,306L603.6,302L607,299L609,295L608,291L607,286L602,279L599,275L597,273Z" fill="#fd8d3c" stroke="#fd8d3c" stroke-width="1.2"/>
<path d="M590,271.4L594,270.6L597,273L599,275L602,279L607,286L608,291L605,292L605,286.4L599,283L595,282L593,275L590,275.4Z" fill="#fc4e2a" stroke="#fc4e2a" stroke-width="1.2"/>
<path d="M597,296L599,292.4L604.4,291.4L608.4,291.4L609,295.4L607,299L603.6,301.4L600,300L598,298Z" fill="#feb24c" stroke="#feb24c" stroke-width="1.2"/>
<path d="M593,311L596,312.4L600,315L602,321L603,325L600,324L597,320L594.4,316Z" fill="#feb24c" stroke="#feb24c" stroke-width="1.2"/>
<path d="M637,282L640,280.6L641.6,284L641,290L644,293L647,292L650,296L651,299L648,298.6L645,296L642,295L639,292L637.6,287Z" fill="#fd8d3c" stroke="#fd8d3c" stroke-width="1.2"/>
<path d="M643,299L646,300L648,303L645,304Z" fill="#fd8d3c" stroke="#fd8d3c" stroke-width="1.2"/>
<path d="M644,308L648,307L651,304.6L654,307L654,312L651.6,314L649,311L646,310Z" fill="#fd8d3c" stroke="#fd8d3c" stroke-width="1.2"/>
<path d="M633,306L637,301L638,300L634.4,307Z" fill="#fd8d3c" stroke="#fd8d3c" stroke-width="1.2"/>
<path d="M582.5,315.5L588,315L595,322.5L602.5,330L607.5,337.5L607,343.8L602.5,342.5L596.2,335L590,326.2L585,320Z" fill="#e31a1c" stroke="#e31a1c" stroke-width="1.2"/>
<path d="M606.2,345L613.8,345.5L621.2,347L628.8,350L626.2,351.8L617.5,350L608.8,348Z" fill="#e31a1c" stroke="#e31a1c" stroke-width="1.2"/>
<path d="M631.2,351.2L636.2,350.8L637,352.5L632.5,353Z" fill="#e31a1c" stroke="#e31a1c" stroke-width="1.2"/>
<path d="M638.8,350.8L645,350L645.5,352L640,353Z" fill="#e31a1c" stroke="#e31a1c" stroke-width="1.2"/>
<path d="M646.2,353.8L650,351.2L655.5,350.8L652.5,353.8L648,355.5Z" fill="#e31a1c" stroke="#e31a1c" stroke-width="1.2"/>
<path d="M614.5,326.2L618.8,327L625,323.8L630,320L635,318.8L636.2,325L633.8,331.2L632,337.5L628.8,339.5L622.5,338L617.5,335L615,331.2Z" fill="#e31a1c" stroke="#e31a1c" stroke-width="1.2"/>
<path d="M616.2,325L621.2,321.2L627.5,317L631.2,311.2L635,312.5L637.5,315.5L635.5,318L630,319.5L625,323.2L619.5,326.8Z" fill="#feb24c" stroke="#feb24c" stroke-width="1.2"/>
<path d="M638.8,327.5L645,326.2L652,325L650,327.5L643.8,328.8L641.2,332.5L645,337.5L646.2,342.5L643.8,343L641.2,337.5L640,342.5L638,343.8L637,336.2Z" fill="#e31a1c" stroke="#e31a1c" stroke-width="1.2"/>
<path d="M657,323.8L659,324.5L658.8,330L657.5,329.5Z" fill="#e31a1c" stroke="#e31a1c" stroke-width="1.2"/>
<path d="M654.5,337L660,336.5L664.5,338L660,338.8Z" fill="#e31a1c" stroke="#e31a1c" stroke-width="1.2"/>
<path d="M663.8,331.2L670,330.5L672.5,333L667.5,333.8Z" fill="#e31a1c" stroke="#e31a1c" stroke-width="1.2"/>
<path d="M668.8,335L672.5,337.5L676.2,335L681.2,333.8L687.5,337L687,352.5L680,350L678.8,346.2L675,342.5L671.2,340Z" fill="#e31a1c" stroke="#e31a1c" stroke-width="1.2"/>
<path d="M687.5,337L693.8,338.8L700,343.8L702.5,348.8L708.8,356.2L705,355.5L700,351.2L695,350L691.2,353L687,352.5Z" fill="#b10026" stroke="#b10026" stroke-width="1.2"/>
<path d="M705,343L710,344.5L713.8,341.2L712.5,336.2L715.5,340L713.8,345L708.8,346.2Z" fill="#b10026" stroke="#b10026" stroke-width="1.2"/>
<path d="M719.5,342.5L722.5,346.2L721.2,347L718.8,343.8Z" fill="#b10026" stroke="#b10026" stroke-width="1.2"/>
<path d="M726.2,348L730,350L732.5,353L730,352Z" fill="#b10026" stroke="#b10026" stroke-width="1.2"/>
<path d="M733,351.2L735,353.8L734.2,356.2Z" fill="#b10026" stroke="#b10026" stroke-width="1.2"/>
<path d="M743.2,367.5L745,368.8L745,372.5L743.8,371.2Z" fill="#feb24c" stroke="#feb24c" stroke-width="1.2"/>
<path d="M733.8,382L736.2,381.2L740.5,386.2L738.8,387.5Z" fill="url(#hatch)" stroke="#ddd" stroke-width="0.6"/>
<path d="M766.2,374.5L769.5,373.8L768.8,376.2L767,376.8Z" fill="#feb24c" stroke="#feb24c" stroke-width="1.2"/>
<path d="M770,372.5L773.8,371.2L773,373Z" fill="#feb24c" stroke="#feb24c" stroke-width="1.2"/>
<path d="M614.5,417.5L617.5,410L618.8,401.2L617.5,396.2L620,388.8L623.8,385L632.5,380L641.2,373.8L645,370L651.2,366.2L657.5,367.5L661.2,361.2L666.2,358.8L673.8,360L675,362.5L672.5,366.2L677.5,371.2L682.5,375L685,371.2L687.5,362.5L690,357.5L692.5,365L695,373.8L698.8,380L702.5,387.5L706.2,395L705,403.8L700,411.2L695,417.5L690,423.8L683.8,428.8L676.2,430.5L670,428.8L666.2,427.5L663.8,421.2L661.2,420L658.8,417.5L655,413.8L647.5,412.5L640,413.8L632.5,416.2L626.2,418.8L620,420.5Z" fill="#feb24c" stroke="#feb24c" stroke-width="1.2"/>
<path d="M667.5,437L672.5,435.5L677,436.2L673.8,441.2L669.5,442.5Z" fill="#feb24c" stroke="#feb24c" stroke-width="1.2"/>
<path d="M739.5,419.5L741.2,422.5L742.5,427.5L746.2,428L742.5,432.5L737,436.2L732.5,437L735,432.5L738,428.8L738.8,423.8Z" fill="#feb24c" stroke="#feb24c" stroke-width="1.2"/>
<path d="M706.2,447L713.8,442.5L722.5,437.5L730,435L731.2,437L726.2,441.2L718.8,445L711.2,449.2L707.5,449.5Z" fill="#feb24c" stroke="#feb24c" stroke-width="1.2"/>
<path d="M350.5,236L353.5,237L358.5,237.5L359.5,241.5L360.5,243.5L359,245L355,246.5L352,248.5L350,250.5L345.5,252.5L343,254.5L343.5,256L343,257.6L334.6,256.5L337.7,254L340.3,252.2L341.5,248.8L342,244.7L343.8,241.8L347,239.4Z" fill="#fed976" stroke="#fed976" stroke-width="1.2"/>
<path d="M325,273L329,265L332.4,259L334.6,256.6L343,257.2L343.6,261.6L335,262.4L334.4,268L333.6,273Z" fill="url(#hatch)" stroke="#ddd" stroke-width="0.6"/>
<path d="M358.5,237.5L364,234.5L370,233.5L375,232.8L379,233L381,233.5L380.5,238L379.5,241L381,243L384,247L384.5,251L385,259L389,268L380,273L373,278L363,271L350,263L343.6,259L343.5,256L345.5,252.5L350,250.5L352,248.5L355,246.5L359,245L360.5,243.5L359.5,241.5Z" fill="#fed976" stroke="#fed976" stroke-width="1.2"/>
<path d="M381.2,233.5L383,231.5L385.5,232L385,234L386.5,236L385.5,239L387,241.5L388.5,243L386,246L384.5,249L384,247L381,243L379.5,241L380.5,238Z" fill="#fd8d3c" stroke="#fd8d3c" stroke-width="1.2"/>
<path d="M384.5,249L386,246L388.5,243L393,244.5L398,247L403,249L406.5,249.5L407.5,246L410,244L415,244.5L418,246L417.5,249L419,271L419,277L414,275L398,269L394,268L389,268L385,259Z" fill="#feb24c" stroke="#feb24c" stroke-width="1.2"/>
<path d="M420,247.2L429,247.9L435.1,247.2L439.3,247.9L440.8,251.7L439.6,255.5L437.3,253.2L435.8,251.7L438.8,257L442.6,263.7L445.6,269.8L444.8,271.3L420,271.3L419,271L418,246Z" fill="#feb24c" stroke="#feb24c" stroke-width="1.2"/>
<path d="M325,273L333.6,273L334.4,268L335,262.4L343.6,261.6L343.6,259L350,263L350,288L337,289L335,292L330,287L325,285L324,279Z" fill="#fed976" stroke="#fed976" stroke-width="1.2"/>
<path d="M350,263L363,271L373,278L372,287L363,289L357,293L352,298L350,300L346,299L344,295L337,294L337,289L350,288Z" fill="#fed976" stroke="#fed976" stroke-width="1.2"/>
<path d="M373,278L380,273L389,268L394,268L398,269L397,280L395,287L395,293L388,295L380,294L374,293L369,295L365,293L364,290L372,287Z" fill="#ffffcc" stroke="#ffffcc" stroke-width="1.2"/>
<path d="M398,269L414,275L419,277L418,287L415,292L414,299L409,302L404,307L399,309L396,304L397,298L395,293L395,287L397,280Z" fill="#ffeda0" stroke="#ffeda0" stroke-width="1.2"/>
<path d="M419,271L445,271L448,279L450,283L447,286L446,294L444,298L440,301L438,298L436,301L428,302L422,304L419,303L414,299L415,292L418,287L419,277Z" fill="#ffeda0" stroke="#ffeda0" stroke-width="1.2"/>
<path d="M419,304L428,302.4L436,301L438,298L440,301L441,309L445,315L440,318.4L434,319L429,317L424,312L421,307Z" fill="url(#hatch)" stroke="#ddd" stroke-width="0.6"/>
<path d="M447,286L450,283L454,290L460,296L458,297L453,292L448,291Z" fill="#ffeda0" stroke="#ffeda0" stroke-width="1.2"/>
<path d="M444,298L446,294L448,291L453,292L458,297L459.6,300.4L463,303L473,308L467,314L460,318L452,319L445,315.4L441,309L440,301Z" fill="#ffffcc" stroke="#ffffcc" stroke-width="1.2"/>
<path d="M458.4,297L461,296L462,299L459.6,300.4Z" fill="#fd8d3c" stroke="#fd8d3c" stroke-width="1.2"/>
<path d="M462,300L472,299L480,297.6L479,304L474,314L467,324L460,331L457.6,332L458,320L460,318L467,314L473,308L463,303Z" fill="#ffeda0" stroke="#ffeda0" stroke-width="1.2"/>
<path d="M324,288L330,287L335,292L337,294.4L337,298L332,297L328,298L324,297L327,294L323.6,292.4Z" fill="#ffeda0" stroke="#ffeda0" stroke-width="1.2"/>
<path d="M324.4,298L328,298.4L329,301L326,301.6Z" fill="#ffeda0" stroke="#ffeda0" stroke-width="1.2"/>
<path d="M329,301L328.4,298L337,297.2L337.4,294.4L344,295.4L346.4,299.2L350,300.4L344,304L343,309L340,307L337,304L333,303.6L331,305Z" fill="#ffeda0" stroke="#ffeda0" stroke-width="1.2"/>
<path d="M333,304L337,303.6L339,307.6L337,311L333.6,309Z" fill="#feb24c" stroke="#feb24c" stroke-width="1.2"/>
<path d="M338,310L340,307L343,309L345,317L341,314Z" fill="#ffeda0" stroke="#ffeda0" stroke-width="1.2"/>
<path d="M344,304L350,301L355,303L356,309L356.4,316L350,316.4L345,317L343.6,310Z" fill="#fed976" stroke="#fed976" stroke-width="1.2"/>
<path d="M350,300L352,298L357,293L363,289.6L365,293.6L369,295.6L367,299L363,301L356,302L355,303L350.4,301.6Z" fill="#fed976" stroke="#fed976" stroke-width="1.2"/>
<path d="M356,302L363,301L363.6,308L365,314L359,316.4L356.4,316L356,309Z" fill="#ffffcc" stroke="#ffffcc" stroke-width="1.2"/>
<path d="M363.6,301.6L365.6,301L366.4,314L365,314L364,308Z" fill="#ffeda0" stroke="#ffeda0" stroke-width="1.2"/>
<path d="M365.6,301L369,296L371,299L370,305L369,313.6L366.4,314Z" fill="#ffeda0" stroke="#ffeda0" stroke-width="1.2"/>
<path d="M371,299L369.6,295.6L374,293L380,294L388,295L395,293L397,298L394,303L391,309L387,313L383,317L377,317.6L373,315L369,313.6L370,305Z" fill="#ffffcc" stroke="#ffffcc" stroke-width="1.2"/>
<path d="M397,298L396,304L399,309L397,314L399,320L401,323L392,322.4L385,321.6L384,318L387,313L391,309L394,303Z" fill="#ffeda0" stroke="#ffeda0" stroke-width="1.2"/>
<path d="M399,309L404,307L409,302L414,299L419,303L421,307L424,312L429,317L422,316L414,317L408,317L404,320L401,323L399,320L397,314Z" fill="#ffeda0" stroke="#ffeda0" stroke-width="1.2"/>
<path d="M385,322L390,322.4L390,325.6L385,325.6Z" fill="#ffeda0" stroke="#ffeda0" stroke-width="1.2"/>
<path d="M385,326L390,325.6L390,323L395,323.6L397,328L396,334L392,335L388,338L384,332Z" fill="#fed976" stroke="#fed976" stroke-width="1.2"/>
<path d="M395,323.6L401,323L404,320L408,317L407,324L404,330L402,336L398,340L393,342L391,340L388,338L392,335L396,334L397,328Z" fill="#ffeda0" stroke="#ffeda0" stroke-width="1.2"/>
<path d="M408,317L414,317L422,316L429,317L434,319L432,326L431,333L431,340L434,348L438,351L429,352L429,351L428,355L430,359L429,362L424,360L418,358L414,357L413,349L409,347L404,349L400,344.4L391.6,344.4L393,345L393,342L398,340L402,336L404,330L407,324Z" fill="#ffeda0" stroke="#ffeda0" stroke-width="1.2"/>
<path d="M434,319L440,318.4L443,324L441,331L434,332L431.6,332.4L432,326Z" fill="#ffeda0" stroke="#ffeda0" stroke-width="1.2"/>
<path d="M440,318.4L445,315.4L452,319L458,320L457.6,332L453,344L448,340L441,335L441,331L443,324Z" fill="#ffeda0" stroke="#ffeda0" stroke-width="1.2"/>
<path d="M430,334L433.6,333L434,339L431,340Z" fill="#ffeda0" stroke="#ffeda0" stroke-width="1.2"/>
<path d="M431,340L434,339L434.4,344L432.4,345Z" fill="#fed976" stroke="#fed976" stroke-width="1.2"/>
<path d="M434,332L441,331L441,335L448,340L453,344L452,352L455,350L456,357L449,359L443,360L441,355L438,353L433,350L431,344L434,348L432.4,345L434.4,344L434,339Z" fill="#ffeda0" stroke="#ffeda0" stroke-width="1.2"/>
<path d="M391.6,344.4L400,344.4L404,349L409,347L413,349L414,357L418,358L417,362L413,363L414,373L417,375L410,375.6L390,374L390,368L393,360L392.4,352Z" fill="#ffeda0" stroke="#ffeda0" stroke-width="1.2"/>
<path d="M391,340L393,342L392.4,344.4L390.8,343Z" fill="#ffeda0" stroke="#ffeda0" stroke-width="1.2"/>
<path d="M414,363L417,362L418,358L424,360L429,362L430,359L428,355L429,351L433,350L438,353L441,355L439,360L438,366L433,367L428,371L424,375L417,375L414,373Z" fill="#fed976" stroke="#fed976" stroke-width="1.2"/>
<path d="M443,360L449,359L456,357L456,368L452,373L446,378L442,382L443,389L441,393L436,396L434,397L434,388L437,382L438,376L436,371L433,367L438,366L440,368L442,372L444.4,370L443,364Z" fill="#fed976" stroke="#fed976" stroke-width="1.2"/>
<path d="M440,355L442.4,358L443,364L444.4,370L442,372L441,367L439,360Z" fill="#ffeda0" stroke="#ffeda0" stroke-width="1.2"/>
<path d="M424,375L428,371L433,367L436,371L438,376L437,382L434,386L428,387L424,383L421,377Z" fill="#fed976" stroke="#fed976" stroke-width="1.2"/>
<path d="M390,374L410,375.6L417,375L420,375.6L411,377L410,388L408,390L408,400L407,405L402,404L399,399L395,388L391.6,380Z" fill="#fed976" stroke="#fed976" stroke-width="1.2"/>
<path d="M411,377L420,375.6L421,377L424,383L428,387L425,390L421,394L418,397L414,396L410,399L408,400L408,390L410,388Z" fill="#fed976" stroke="#fed976" stroke-width="1.2"/>
<path d="M408,400L410,399L414,396L418,397L421,394L425,390L428,387L434,387L434,397L436,396L437,400L435,405L430,410L424,415L416,418L406,419.6L403,417L402,411L400,404L402,404L407,405Z" fill="#fed976" stroke="#fed976" stroke-width="1.2"/>
<path d="M422.6,406L426,403.6L428.4,406.4L425.6,409Z" fill="#feb24c" stroke="#feb24c" stroke-width="1.2"/>
<path d="M431.6,397L434,396L435,399L432.4,400.4Z" fill="#ffffcc" stroke="#ffffcc" stroke-width="1.2"/>
<path d="M461,386L464,373L470,367L476,361L478,365L477,372L474,382L470,392L466,395.6L462,394Z" fill="#fed976" stroke="#fed976" stroke-width="1.2"/>
<path d="M492.4,381.2L493.6,381.2L493.6,382.4L492.4,382.4Z" fill="#feb24c" stroke="#feb24c" stroke-width="1.2"/>
<path d="M128,152L117.5,149.5L107.5,148.8L93.8,151.2L83,155L81.2,158L76.2,160L70.8,161.5L80,163.8L76.2,166.5L65,169L60.8,172.5L62.5,175.8L71.2,177.5L67.5,180.5L55,184.5L44.2,187.8L57.5,185.5L70,181.8L76.8,180L83.8,175.5L90,172.5L97.5,172.5L103.8,174.5L107.5,178L111.2,183L113.8,186.5L110,181.2L108,176.2L105,171ZM47.5,162L55,157L60.5,154L63,157.5L67.5,158.5L67,161L61.2,162.5L57.5,164L53,162ZM128,152L140,151.5L150,150.5L155.7,151.9L161.3,152.9L168.4,154L170.5,156.1L178.3,155.7L186.8,156.3L196.7,155.6L199.6,156.1L203.8,153.3L205.9,150.5L208.8,148.3L210.9,149.7L212.3,153.3L214.4,155.4L218,154L220.8,152L225.1,152.3L223.7,156.1L218,159L213.7,160.4L212.3,161.1L206.7,163.9L199.6,167.5L192.5,171.7L187.5,176.7L189,180.9L195.3,183L201,185.9L204.5,186.6L203.1,190.8L204.5,195.1L208.1,193.7L208.8,188L212.3,185.9L217.3,182.3L218.7,178.1L220.1,172.4L222.9,168.9L229.3,168.9L233.6,171.7L235.7,176.7L240.7,177.4L244.2,173.8L246.3,180.9L249.2,185.9L253.4,189.4L254.1,193.7L243.8,197.5L232.5,201.5L223.8,204.5L230,205L237.5,208L239,210.5L231.2,214.5L225.5,213L224.5,209.5L225.5,210L223.7,206.5L220,207L216.2,209L210,211.5L205,214L197.5,216.5L188,220.5L192,212.5L190,208L183.7,204L175.5,202L171.2,201.2L112,201.2L111.2,203L108,198L112.5,195L110.5,185L113.8,186.5L110,181.2L108,176.2L105,171ZM249.2,196.2L254.5,201.2L255.8,206.2L250,207.2L243.8,204.8L246.2,200ZM208.8,164.6L213,161.8L218,163.2L220.1,165.3L216.6,167.5L212.3,168.2ZM216.6,148.3L219.4,144.8L226.5,143.4L233.6,144.1L240.7,145.5L243.5,148.3L249.2,150.5L250.6,154L256.2,158.2L252,161.8L247.7,159.7L246.3,162.5L247.7,166L243.5,168.9L237.8,167.5L232.2,165.3L225.8,163.9L227.2,161.8L233.6,161.1L237.8,158.2L238.5,155.4L235,153.3L230.7,152.6L227.2,152.6L225.1,152.3L220.8,151.9L218,150.5ZM168.4,153.3L169.1,148.3L174.8,146.2L180.5,145.5L185.4,146.2L191.1,144.8L193.9,146.2L192.5,149.7L195.3,152.6L192.5,154.7L185.4,154L178.3,154.7L172.7,154.3ZM159.2,146.9L167,142.7L176.2,142.7L179.7,144.4L174.8,145.5L169.1,147.6L162.7,149ZM198.2,146.2L203.1,144.1L208.1,143.4L206.7,146.9L202.4,148.3ZM196,151.9L201.7,151.2L203.1,153.7L198.9,154.7ZM175.5,138.4L182.6,136.3L188.2,135.6L189.7,137.7L195.3,137.7L200.3,139.1L195.3,141.2L188.2,141.2L181.2,140.5ZM205.2,139.1L210.9,137.7L213,139.8L208.1,141ZM216.6,137L223.7,138.1L229.3,139.1L237.8,139.8L239.2,141.2L229.3,142L220.8,141.2L217.3,139.1ZM193.9,134.2L200.3,133.2L199.6,134.9L195.3,135.6ZM208.8,132.7L214.4,133.5L213.7,134.9L209.5,134.2ZM217.3,133.7L221.5,134.2L220.8,135.6L218,135.2ZM224.4,130.6L229.3,129.2L235.7,128.5L242.1,127.1L252,125.9L263.3,125.7L270,125.9L273.2,126.2L270,128.5L263.3,130.6L257.6,132L252,132.7L250.6,134.9L244.9,135.6L240.7,136.7L235,137.3L229.3,137L227.2,134.9L232.2,134.2L235,132L229.3,132.7L225.8,132.5ZM112,201.2L171.2,201.2L175.5,202L183.8,204L190,208L192,212.5L188,220L197.5,216.5L205,214L210,211.5L216.2,209L220,207L223.8,206.5L225.5,210L223.8,213L216.2,216.5L210.5,220L215,219.5L208,222.5L203.8,225L200.5,230L198,235.5L190,241.5L183.8,246.5L182,250L183.2,256.2L182.8,262.8L180,261.5L178.2,252.5L175,250L166.2,250L160,252.5L152.5,252L146.2,255.5L144.2,261.2L140,254L136.2,249L132.5,251.5L128.8,246.5L117.5,245.5L106.2,243.8L101.2,238.8L98.8,230L99.5,222.5L103.8,213.8L110,205ZM106.2,243.8L108,252.5L111.2,261.2L115,269L116.8,269.5L115,262.5L111.8,252.5L110.5,247L113.8,248L117.5,256.2L122.5,265L125,273.8L130,278.8L138.8,283.8L146.2,287.5L152.5,289L154,284L160,281.5L163.8,279L166.5,274L163.8,272.5L158.8,275L155,279.5L148.8,280.5L144.5,276.2L142.5,268.8L144.2,261.2L140,254L136.2,249L132.5,251.5L128.8,246.5L117.5,245.5ZM152.7,288.1L155.3,283.5L159.1,283L158.8,285.3L161.4,287.6L159.9,290.7L157.6,293L154.5,291.5ZM159.1,283L161.4,281.5L162.7,282.3L161.4,287.5L158.8,285.3ZM161.4,288.1L167.6,287.2L172.6,289.2L170.2,290.8L166.8,293L164,294.7L162.2,292.7L159.9,290.7ZM157.6,293L159.9,291.2L162.5,293L163.7,294.7L160.7,295ZM164,294.8L170.2,290.8L172.9,289.6L172.2,295.3L171.1,300L167.6,300.4L166,297.6ZM166.3,300.7L171.1,300.4L173.7,304.6L172.2,306.9L169.6,304L166.8,303ZM172.9,305L176,306.8L179.1,305.6L182.9,304.5L185.5,306.8L184.9,309.6L182.9,306.8L179.8,307.7L177.5,310.2L174.8,308ZM171.5,271.5L175.7,269L181.4,269L187.1,271.8L192.7,275.4L194.9,276.8L191.3,277.2L187.8,276.8L185.7,274L180,271.5L175,271.1ZM185,280.5L189.5,281.2L188,283L185,282ZM194.5,278.8L198.5,277.5L199,281.2L195.5,282L197,280ZM198.5,277.5L200,277L206.2,278.8L208,280.5L203.8,282L199,281.2ZM186.4,259.1L190.2,259.4L190.5,260.5L187.1,260.2ZM187.1,263.3L188.5,263.6L188.8,266.4L187.4,265.9ZM9,275.3L11.6,276.6L11,279L9,278ZM6.5,273.4L8,274.2L7,275ZM2.5,271L4,271.6L3.2,272.4ZM202,326L207,325L212,327.6L214.3,325.2L218.1,320.6L217.7,317.8L220.1,315.2L222,314.8L222.7,317.5L224.7,321.4L225.8,325.2L231,324.4L237,323.6L242,323L246,321L247.6,327.6L253,330L260,334L268,336L276,339L282,344L283,349L280,355L275,363L274,372L273,380L270,388L262,392L256,397L254,404L250,409L247,414L243,411L237,408L239,404L242,400L243,397L241,395.6L239,389L234,387L230,380L231.6,377L229,372L224,369L223,365L214,360L212,355L207,357L203,358L197,355L194,350L194.4,345L197,341L201,340L202,336L200,332.4L201,329ZM184.9,309.6L185.5,306.8L188.3,303L191.3,299.9L195.2,299.1L198.2,296.8L199.8,297.6L197.5,299.9L195.6,302.2L195.9,306L198.2,309.1L202.8,310.2L206.7,312.9L207.4,319.1L206.7,323.7L205.1,326L202.1,326.7L202.1,330.6L200.8,339.8L199.8,336.7L194.4,335.9L191.3,332.1L189,329L186,327.5L182.1,325.2L182.9,321.4L185.2,316.8ZM199.8,297.6L202.1,298.4L203.3,300.4L206.7,301.4L212.8,302.2L218.1,301.4L222,300.7L223.2,303L225.8,306.8L222,310.6L219.7,314.5L217.4,317.5L218.1,320.6L214.3,325.2L210.5,327.5L207.4,322.9L207.4,319.1L206.7,312.9L202.8,310.2L198.2,309.1L195.9,306L195.6,302.2L197.5,299.9ZM197.9,301.9L199.3,301.4L199.8,303.7L198.5,305L197.6,303.7ZM225.8,306.8L229.6,310.6L231.2,314.5L229.3,317.5L231.2,322.1L229.6,324.9L225.8,325.2L224.7,321.4L222.7,317.5L222,314.5L222,310.6ZM231.2,314.5L237.3,313.7L239.2,316L238.1,321.4L235.8,322.9L232.7,323.7L229.6,319.1L229.6,316.8ZM182.1,325.5L186,327.5L189.8,329.8L189,333.6L186,335.9L182.9,339L180.6,342.1L177.8,339.8L176.8,335.2L176.3,331.3L178.3,328.3ZM176,341L180,340L184,337L190,331L194,334L200,333L202,336L201,340L197,341L194.4,345L194,350L197,355L203,358L204.4,363L205,370L204,377L200,374L193,369L188,360L182,350L177,345ZM203,358L207,357L212,355L214,360L223,365L224,369L229,372L231.6,377L230,380L224,380L222,384L218,387L213,388L210,386L207,380L204,377L205,370L204.4,363ZM224,380L230,380L234,387L239,389L241,395.6L239,400L234,400L233,395L228,392L223,388L222,384ZM213,388L218,387L222,384L223,388L228,392L233,395L234,400L239,400L243,397L242,400L239,404L237,408L236,409L235.6,414L237,418L240,420L240.4,425L239,429L235,430.4L230,430.4L231,436L227,437L229,440L228,445L225,448L228,452L229,455L226,459L227,464L220,463.6L217,460L216,454L215,448L212.4,442L211,434L211,428L210,420L209.6,412L208,406L207.6,400L209,392L210,386ZM204,377L207,380L210,386L209,392L207.6,400L208,406L209.6,412L210,420L211,428L211,434L212.4,442L215,448L216,454L217,460L220,463.6L226,465L227,467L230,470.4L234,470L237,471.6L233,473L226,471L220,468L215,463L211,457L208.4,450L208,442L207,434L204.4,427L205,420L204.4,412L204.4,400L204.4,394L203.6,384ZM227,466L230,469L237,471.4L233,471L229,470.4ZM236,408L240,410L246.4,414L245,419L240,420L237,418L235.6,414ZM321.2,160.8L326.2,159L332.5,159L338.8,161.2L337.5,163.8L331.2,165.5L325,165.5L322,163.2ZM378,132L383,131L389,130L395,129.8L402,130.8L399,132.2L393,132.5L389.5,135L388.5,137.2L385,136.8L381,134.5ZM394.5,134.5L399.5,135.2L396,136ZM372,170L375,167L380,164L384,160L388,156L392,153L397,151L403,149.2L409,148.8L414.5,150L411.5,151.5L412,153.2L409,151.8L406,153L404,154.5L401,153.5L397,154.5L391.5,156L389,159L386.5,164L384.5,167L385.5,170L385,174L382.5,177L378,178.8L374,177.5L372.5,174ZM391.5,156.2L397,154.7L401,154L403,157L403.5,160L401,162L399,165L395.5,168L394.5,172L397,174.5L397.5,174.5L394,177L393.5,181L391,184L388.5,185L386.5,182L384.5,178L384,174L385.5,170L384.5,167L386.5,164L389,159ZM403.3,154.3L406,153L409,151.8L411.5,151.8L412,153.5L413.5,156L414,160L416,164L419,168L417,171L414,173.5L408,174.5L403.5,173.5L401.5,171L402,167L404.5,164L406.5,162L404,160.5L403,157.2ZM343.2,194.5L344.2,191.6L344.9,189.2L347.4,187.1L349.9,186L351.6,187.1L351.3,189.2L350.6,191.6L348.8,193.4L346,194.5ZM352,178.5L355,177.5L357,178L357.2,180L358.7,182.5L357.3,184.2L359.4,184.6L361.2,187.1L362.9,189.5L364.3,191.6L366.1,192.7L365.8,195.2L364,196.6L360.5,196.9L356.2,197.6L353.1,198.9L351.6,198.5L354.1,196.6L355.9,195.2L353.1,194.8L354.1,193.1L355.2,190.6L357.3,189.2L356.6,187.1L354.1,186.7L353.1,184.9L352,182.8L351.6,180ZM353.8,202.9L356.2,202.2L359.1,201.9L359.4,200.1L361.9,200.8L364.3,198.7L366.8,196.6L368.2,197.6L370.3,198.7L372.1,200.1L374.6,200.5L376,201.5L378.5,202.2L377.8,204L376.7,205.8L375.6,207.2L376.7,208.2L377.4,210.3L377.1,212.1L378.5,213.5L376.7,215.6L373.9,216L371.1,215.3L369.3,217.1L366.8,217.8L363.3,217.1L360.5,216.3L359.8,215.3L360.5,212.5L360.5,209.6L359.1,207.2L356.9,205.4L354.1,204.3ZM381.3,218.1L382.7,217.1L383,219.5L382.2,220.9L381.3,219.9ZM344,216L348,215L353,215.5L360,215.8L365,217.5L369,218.5L368.5,221L365,223L363.5,226L363,229L360,231.5L356.5,233L352.5,233.5L351,235L349.5,233L347.5,232L348.5,229L347.5,225L348.5,221L347,219L344.5,218.5ZM344.5,218.5L347,219L348.5,221L347.5,225L348.5,229L347.5,232L344.5,232.5L343.5,229L342.8,226L344,222ZM366.8,196.6L368.2,196.1L371.1,195.9L373.5,196.6L374.9,198L375.3,200.1L374.6,200.5L372.1,200.1L370.3,198.7L368.2,197.6ZM371.1,195.9L371.4,193.4L373.2,191.3L376.3,190.4L376.7,192.4L376,194.8L374.9,196.6L374.9,198L373.5,196.6ZM376.3,190.4L379.5,188.5L381.3,187.4L383.8,188.1L386.6,188.5L389.4,189.2L391.2,191.3L391.9,194.8L392.9,196.6L390.8,196.6L388.7,198L389.4,199.8L392.2,201.5L390.8,203.3L388.7,204.7L385.2,204.3L383,204.8L380.9,204.3L378.5,204L378.5,202.2L376,201.5L374.6,200.5L375.3,200.1L374.9,198L374.9,196.6L376,194.8L376.7,192.4ZM378.5,185.3L378.8,182.5L380.2,180.7L382,180L382.3,178.6L383.2,178.9L382.7,182.1L382.3,184.9L381.6,187.1L379.9,187.4ZM384.1,184.9L386.2,184.2L387.1,185.6L385.5,186.5ZM375.6,207.2L376.7,205.8L378.5,204.7L380.9,204.5L383,205.1L384.1,206.5L383,207.9L380.6,208.6L378.8,209.3L377.1,208.6ZM383.8,205.8L385.2,204.5L388.7,204.8L390.8,203.4L393.6,201.7L396.5,202L398.6,203.3L398.2,205.8L396.5,207.2L392.9,207.5L389.4,206.5L386.6,206.8L384.5,206.8ZM388.7,198L390.8,196.6L392.9,196.6L396.5,197.3L400,198.7L398.9,200.8L396.5,201.9L393.6,201.5L392.2,201.5L389.4,199.8ZM391.2,191.3L393.6,188.1L397.2,187.1L400,186.7L401,187L408,188.5L409.5,193L410.5,196.5L409,199.5L404,200L400,200L400,198.7L396.5,197.3L392.9,196.6L391.9,194.8ZM398,202.2L401,200.5L408,201L407.5,203L403,204L399.5,204.5L397.5,203.8ZM396.5,205.9L398.5,205L402.1,204.1L405.6,203.5L408.2,203.8L407.6,205.3L406.8,206.8L404.7,208.2L402.6,208.8L400.6,208.8L397.9,208.2L397.1,207.4ZM392.9,207.7L396.5,207.3L397.2,208.6L395,209.6L392.6,209.3ZM393.8,210L395.6,208.8L397.9,208.2L400.6,208.8L402.6,209.4L402.6,211.5L400.9,211.8L397.9,211.5L395.3,211.8L396.2,213.2L397.6,214.7L399.1,216.5L400.9,217.4L402.1,218.2L400.3,217.6L398.2,215.9L396.2,214.1L394.7,212.4L394.1,211.2ZM395.3,211.8L397.9,211.5L400.9,211.8L402.6,211.5L402.6,213.5L403.2,215.3L402.4,216.5L400.9,217.4L399.1,216.5L397.6,214.7L396.2,213.2ZM402.6,209.4L404.7,208.8L406.8,209.7L408.2,211.8L409.7,213.5L410.9,215.4L411.2,217.4L410.6,218.8L408.5,218.7L407.1,217.6L406.2,216.8L405.3,217.4L404.4,216.8L403.8,214.7L403.2,212.4L402.6,210.9ZM402.4,216.5L403.8,215.9L405,217.1L404.7,218.2L403.8,219.1L402.9,217.9ZM404.1,219.1L405.6,218.8L406.5,220L406.8,221.9L406.9,223.5L405.9,224.7L404.7,224.4L404.1,222.4L403.9,220.6ZM406.5,219.7L408.2,218.8L410.3,219.1L411.5,220.3L410.9,221.5L408.5,222.1L406.8,221.8ZM406.8,221.9L408.5,222.2L410.9,221.6L412.1,222.1L414.4,222.4L416.8,221.8L419.1,220.9L420.3,221.5L419.1,222.6L417.1,222.9L415,222.6L413.2,223.2L414.4,224.4L412.6,224.7L411.5,223.8L410.9,224.7L412.1,226.5L412.9,228.2L414.7,229.7L414.4,230.9L412.6,231.8L412.4,233.5L411.2,233.8L409.7,232.1L408.8,230L408.2,228.2L407.1,226.8L406.2,225.3L406.8,223.5ZM414,236.2L417,236.6L420.5,237.2L420.5,238.1L416,237.7ZM377.4,210.3L377.1,208.6L378.8,209.3L380.6,208.6L383,207.9L384.5,207L386.6,207L389.4,206.6L392.9,207.7L392.6,209.3L390.5,209.6L389,211.1L390.1,213.2L392.6,216L395.8,218.8L398.6,221.3L399,222L402,224L400,224.5L399,226.5L399.5,229L397.5,229.8L397.5,227L396,224.5L392,221.5L389,219L386,216L384,213.5L384.5,212.5L381.6,212.1L379.5,213.2L378.5,213.5L377.1,212.1ZM389.8,230L393,229.5L396,229.8L395.5,233L393,232.2L390.5,231.2ZM380.5,222.5L383,222L383.7,224.5L383.3,227L381.2,227.2ZM406.5,176.5L410,175.5L415,176L415,179.5L411,180L408,179ZM403.5,182L406,180L411,180L415,180L416.5,183L413,184L408.5,183.5L404.5,184ZM403.5,184.5L408.5,183.7L413,184.2L414,186.5L412,189L408,188.5L406,186.5L403.5,186ZM401,187L404,186L406,187L405.5,188.2L402,188.2ZM409.5,189.5L412,189L414,186.5L416.5,184L421.5,185L424,188L426.5,190.5L425,193L424,195L420,194.5L415,194L410.5,194.5L410,191.5ZM409,200L410.5,195L415,194.2L420,194.7L424,195.2L426.5,193.5L430,193.5L433,196.5L438,198.5L443,200L444,203L442,206L439,207L436,207.5L434.5,208.8L432,208.5L428.5,207.5L426.5,207.5L423.5,210L421.5,207.5L419.5,204L417,203L413,203.5L410,203.5L408.5,202.5ZM417.1,202.9L419.1,202.6L421.2,204.4L422.9,206.5L424.1,208.8L423.8,209.7L421.8,209.4L420.9,207.6L419.1,205ZM406.8,206.8L408.2,203.8L410.9,203.2L414.4,203.5L417.1,202.9L419.1,205L420.9,207.6L421.8,209.4L424.1,209.7L423.8,211.5L422.4,212.6L421.8,215L420.3,214.4L417.9,214.7L415.6,215.3L413.2,215L410.9,215.4L409.7,213.5L408.2,211.8L406.8,209.7L404.7,208.8ZM410.9,215.6L413.2,215L415.6,215.3L417.9,214.7L420.3,214.4L421.8,215.3L421.2,217.1L420.6,218.8L419.7,220L417.9,220.9L416.2,221.2L413.8,220.9L411.8,220.3L410.6,218.9L411.2,217.4ZM414.5,150L421,152.2L427,154L433,156.5L433,158.5L429,159.5L424,159L420.5,159.5L423.5,161.8L426,164.5L430,166L433.5,165L435.5,161L437,159L439,157L437,154.5L442,155.2L443,158L447,157L450,155L455,154.5L465,152.5L472.5,150L475,145.5L480,147.5L488,159L490,157.5L485.5,148L490,145L498.7,141.2L507.5,138.7L517.5,136.2L527.5,137L537.5,138.7L538.7,142L547.5,143.7L557.5,145L565,143.7L572.5,147L580,148.7L587.5,147.5L595,146.2L605,148L610,147.5L625,149.5L632.5,152.5L645,153L647.5,151.2L657.5,152L667.5,155L675,161.2L680,165L685.5,168.7L677.5,171.2L673.7,173.7L667.5,174.5L665.5,176.2L671.2,182.5L675,190L674.5,196.2L668.7,190L662.5,185L658.7,181.2L660,173.7L658,169.5L653.7,172.5L648.7,171.2L646.2,176.2L637.5,177L630,177.5L625,185L623.5,187L628.2,188.2L632.4,188.5L635.3,188.2L638.8,190L641.8,194.1L644.7,200L646.5,207L645.3,213.5L642.9,217L640,217.6L637.6,217L637.6,210.6L637.6,207L636.5,203L634.1,203.5L628.2,204.1L622.4,200.6L616.5,196.5L610.6,192.4L604.7,190L600,190.6L601.2,197.5L600,205L595,200.5L585,199.5L577.5,198L568.7,197L560,194.5L557.5,198L548.7,197.5L540,201.2L538.7,202.5L535,200L528.7,197.5L522.5,196.2L516.2,192.5L510,188.7L502.5,187.5L496.2,185.5L488.7,188L484.5,189L484,197.5L470,195L461.2,196.2L457,201.2L460,206.2L462.5,208.7L464,208.5L460,212L461,214L464,220L460,219.5L456,218L451,216.5L448,216L443,212L440,209.5L442,206L444,203L443,200L438,198.5L433,196.5L430,193.5L427,193.6L426.5,190.5L424,188L421.5,185L416,184.8L414.5,184.8L414.5,180L415,176L414,173.5L417,171L419,168L416,164L414,160L413.5,156L412,153.5L411.5,151.5ZM447,147.5L448.8,142.5L455,139.5L466.2,137L460,140L453.8,143.8L452.5,147.5L456.2,149.5L451.2,149.5ZM493.8,130L500,129L507.5,132L502.5,132.5ZM510.5,133L517.5,134L513.8,135ZM574.5,139.5L580,138.5L586.2,140L580,141ZM587.5,140.5L596.2,140.5L593.8,142ZM586.2,143.8L591.2,144.5L587.5,145.5ZM427,130L435,129.5L435.5,130.5L431,131.2ZM639.4,188.2L642.4,190.6L647.1,195.3L651.8,199.4L654.7,201.8L651.8,201.8L654.1,205.3L657.6,208.2L654.7,208.2L651.8,204.7L648.8,200.6L645.3,195.9L641.8,192.4ZM655.5,148.2L658,149.2L657,150ZM419.8,226L421.5,224.2L423.5,222.9L427,221.6L433,220.6L437,220.6L440,221.2L445,222.5L450,221.7L456,220.5L458.4,222.3L460.7,225L461,228L458,230L453.6,232L451.6,232.3L445.6,233L441,233L439.6,235.2L437.3,234.5L432,233.4L428,233.8L424,232.4L421.5,230.8L419.8,229ZM419.1,220.9L420.3,220L422.6,220.3L423.8,221.5L421.8,222.1L420.3,221.5ZM433.3,237.4L436.3,236.3L435.1,238.1ZM449.4,216.3L453.9,217.3L459.9,219.3L462.9,220.8L459.9,221.9L456.1,221.6L452.4,219.3ZM456.9,222.3L459.9,221.9L462.9,225.3L461.4,226.1L458.9,224.6ZM460.3,222.4L463.2,220.8L466.8,221.2L467.9,225.3L465.6,226.5L462.1,227.6L460.9,225.3ZM457.4,200.6L459.7,195.9L464.4,194.7L473.8,195.9L482.6,196.5L484.4,194.7L482.6,191.2L485.6,189.4L515,189.4L520.9,194.7L526.8,197.1L532.6,198.2L538.5,201.2L536.2,205.3L533.2,207.6L532.1,210.6L529.1,212.4L531.5,216.5L526.8,217.1L518.5,216.5L513.2,217.6L509.7,220.8L506.8,221.8L503.2,218.2L499.7,215.3L493.8,214.7L489.1,213.5L483.2,210.6L479.1,211.8L480.3,219.4L477.9,218.8L474.4,219.4L471.5,215.9L469.1,213.5L472.1,210L470.9,207.6L466.8,207.1L463.2,208.8L460.3,206.5L457.9,203.5ZM479.1,211.8L483.2,210.6L489.1,213.5L493.8,214.7L499.7,215.3L503.2,218.2L506.8,221.8L509.7,220.8L512.6,219.4L515,221.2L517.4,220.8L516.2,222.4L512.6,223.5L510.3,225.3L509.1,226.5L509.7,231.2L506.8,230.6L503.8,228.2L500.9,225.3L495.6,223.5L490.3,221.2L486.8,218.2L483.2,219.4L480.3,219.6ZM476.2,224.1L477.9,221.8L480.3,220L483.2,219.6L486.8,218.5L490.3,221.4L495.6,223.8L500.9,225.5L503.8,228.5L506.8,230.8L504.4,232.9L500.9,235.3L497.9,236.5L495.6,234.7L491.5,231.8L486.8,230L482.6,229.4L479.1,230L477.4,227.6ZM512.6,217.6L518.5,216.7L526.8,217.3L531.5,216.8L530.3,219.4L526.8,221.8L523.2,223.5L519.7,225.3L516.2,225.9L512.6,225.3L510.9,225.3L512.6,223.8L516.2,222.6L517.4,220.8L515,221.2L512.6,219.4L510.3,220.8ZM509.1,226.7L510.9,225.5L516.2,226.1L519.7,225.5L521.5,227.4L523.2,229.4L524.4,231.2L520.9,231.4L518.5,232.4L516.2,230.6L513.8,231.2L509.7,231.4ZM457.9,226.5L462.1,228.2L465.6,226.5L467.9,225.9L469.7,229.6L472.6,232L477.9,232.6L479.1,230.2L482.6,229.6L486.8,230.2L491.5,232L495.6,234.9L495.6,238.2L496.2,242.4L499.1,246.5L497.9,248.8L499.7,252.4L502.1,255.9L503.7,258.7L501.9,260.5L500.9,263.3L497.3,262.6L493.1,261.9L490.6,260.8L489.9,258.5L488.2,258.2L485.3,258.8L481.5,257.4L478.3,255.5L475.5,253.4L473.7,250.3L470.2,249.9L469.1,249.5L467.4,244.9L463.7,240.4L461.4,235.1L457.7,230.3ZM495.6,235.3L497.9,236.7L500.9,235.5L504.4,233.2L506.8,231.2L509.7,231.8L513.8,231.4L515.9,229.4L518.5,232.6L524.4,231.4L520.3,234.1L518.5,237.1L517.9,241.8L515.6,244.7L513.2,247.1L510.3,250.6L504.4,251.8L499.7,252.4L497.9,248.8L499.1,246.5L496.2,242.4L495.6,238.2ZM499.7,252.6L504.4,252L510.3,250.8L513.2,247.3L515.6,244.9L517.9,242L518.5,237.3L520.3,234.4L524.4,231.8L527.9,232.9L531.5,235.3L530.3,238.2L525.6,239.4L524.4,241.8L526.2,245.3L526.8,248.8L523.8,252.4L522.1,255.9L519.1,258.2L517.9,261.5L522.4,265.2L517.9,266L515.6,263L510.4,263L501.3,263.3L503.6,258.5ZM441.1,233.6L445.6,233.2L452.4,232.4L451.6,237.4L448.6,241.1L444.1,243.4L441.8,241.9L442.6,237.4ZM440.3,238.9L442.1,238.4L441.8,241.9L440.3,241.9ZM439.3,243.4L441.1,242.7L440.8,248.7L439.6,250.2ZM441.1,244.9L444.8,243.9L448.3,241.9L448.6,244.9L444.8,247.9L444.1,250.9L441.1,252L440.8,247.9ZM452.4,232.4L457.7,230.3L461.4,235.1L463.7,240.4L467.4,244.9L469.7,250.2L466.7,252.4L462.2,250.9L456.9,247.9L449.4,244.9L448.6,241.1L451.6,237.4ZM466.6,251.6L468.4,250.2L470.2,250.6L470.5,253.8L469.1,254.5L467.7,253.1ZM441.1,252.4L444.1,251.2L444.8,248.2L449.4,245.4L456.9,248.2L462.2,251.2L466.6,251.9L467.7,253.2L469.1,254.6L470.7,254.3L472.6,257.5L474.8,260.7L476.2,263.1L479,265.5L479.7,267.4L482.2,269.3L485.3,269.6L487.5,270L488.2,273.9L487.5,276.7L482.5,279.5L472.7,280.3L470.5,283.3L461.4,284.1L459.9,286.3L456.1,280.3L452.4,273.5L447.9,266.7L444.1,260.7L440.3,256.2ZM460.7,284.8L470.5,283.6L473,280.6L483.3,279.1L484,283.3L480.2,286.3L474.2,289.3L466.7,293.1L462.2,294.6L460.7,290.8ZM489.2,264L490.3,264.7L493.1,266.8L495.9,268.2L497.7,270.3L496.3,273.2L494.5,276L493.1,279.2L491.7,282L487.8,284.1L484,283.3L483.3,279.1L482.5,279.5L487.5,276.7L488.2,273.9L487.5,270L488.2,266.8ZM489.6,260.5L490.6,260.8L490.3,262.6L489.4,261.9ZM479.3,266.5L481.5,266.3L483.9,266.1L486.1,264.2L488.2,262.1L489.6,261.5L489.2,264L488.2,266.8L487.5,270L485.3,269.6L482.2,269.3L480.1,268.2ZM476.9,261.5L478.3,261.2L478.9,263.3L477.9,264.7L476.9,263.6ZM540,201.2L548.8,197.5L557.5,198L560,194.5L568.8,197L577.5,198L585,199.5L595,200.5L600,205L607.5,206.2L602.5,208.8L595,210L590,216.2L582.5,219.5L570,218L560,216.2L552.5,212.5L547.5,206.2ZM538.8,202.5L547.5,206.2L552.5,212.5L560,216.2L570,218L582.5,219.5L590,216.2L595,210L602.5,208.8L607.5,206.2L600,205L601.2,197.5L600,191.2L604.7,190L610.6,192.4L616.5,196.5L622.4,200.6L628.2,204.1L634.1,203.5L636.5,202.9L637.6,207.1L637.6,210.6L635.3,211.8L636.5,215.3L637.4,217.1L634.1,218.8L631.2,221.2L628.2,224.1L625.3,226.5L622.4,225.3L620.6,222.9L618.8,224.1L614.7,227.6L616.5,229.4L620.6,231.8L623.5,230.6L626.5,231.8L625.3,233.5L622.4,236.5L624.7,238.8L627.6,241.2L630,244.1L631.8,247.1L632,250.6L634,255L631,263L626,268L620,271L614,273L611,273.4L609,274.6L605,271L599,268.6L594,270.6L590,271L588,268L584,263L583,257L580,255L578,254L573,253L569,255L565,255L560,256L550,253L544,250L541,250.6L537,247L534,241L532,238L533.2,240L530.3,238.2L531.5,235.3L527.9,232.9L524.4,231.2L523.2,229.4L521.5,227.4L519.7,225.3L523.2,223.5L526.8,221.8L530.3,219.4L531.5,216.8L529.1,212.4L532.1,210.6L533.2,207.6L536.2,205.3L538.5,201.2ZM628.2,224.1L631.2,221.2L634.1,218.8L637.1,217.1L637.6,217.6L635.9,220L635.3,223.5L636.5,226.5L638.2,228.2L635.3,230L633.5,229.4L631.2,228.8L630.6,226.5ZM634.1,230L638.2,228.5L640.6,230.6L642.9,234.1L643.8,237.6L641.2,238.8L638.8,239.4L637.1,236.5L635.9,232.9ZM655.9,211.2L658.8,212.4L662.4,214.7L665.3,214.1L667.1,215.3L664.7,217.6L664.1,219.4L661.2,218.8L658.8,220.6L656.5,218.2L656.5,215.3L657.6,213.5ZM660,221.2L662.4,222.9L664.7,225.9L665.9,229.4L667.1,232.4L668.2,235.3L666.5,237.6L663.5,238.8L660.6,241.2L657.6,240L655.3,240.6L652.9,241.8L650.6,241.2L648.8,240L651.2,238.2L654.1,236.5L657.1,235.9L657.6,232.4L660,230.6L661.8,228.2L660.6,225.3L659.4,222.9ZM646.5,242.4L648.8,241.2L650.6,242.9L652.4,245.3L651.8,248L650,247.1L648.2,244.7ZM652.9,240.6L657.1,240L655.9,241.8L653.5,242.9ZM633.6,265L636,263L637,267.4L635.4,271.4L633.6,269ZM609.4,278L613,276.6L615,279L612.4,281.4L610,280.6ZM525.4,239.6L531.4,237.4L532,238L534,241L537,247L541,250L541.6,253L547,256L554,258L560,259.4L568,259.5L568,256.4L569,255L573,253L578,254L580,257L578,262L575,267L573,272L570,269L571,263L569,260L563,260.6L561,262L562,266L563,272L558,277L552,285L547,293L546,301L544,308L541,306L538,299L534,289L531,283L528.4,275.8L524.7,271.3L519.4,271.3L518.6,266.7L522.4,265.2L517.9,261.5L519.1,258.2L522,255.9L523.8,252.4L526.8,248.8L526.2,245.3L524.4,241.8ZM541,251L544,250L550,253L560,256L560,259.4L554,259L547,256.4L542,253.4ZM561,256.4L565,255L568.4,256.6L567.6,259.4L562,259.4ZM561,262L564,260.6L569,261.4L570,267L570,271L568,272L565,271L562,267.4ZM547,304L550,306L551,311L549,313.4L546.4,310ZM578,258L580,255L583,257L584,263L588,268L590,271L594,270.6L590,275L587,277L585,283L587,287L589,294L590,301L588,299L586,291L583,286L580,288L578,284L576,279L573,273L573,269L575,266ZM587,277.4L590,275.4L593,275L595,282L599,283L605,286L604,291L599,292L597,296L594,295L592,292L590,295L591,301L590,305L593,309L596,312L594,313L591,309L589,305L589,295L587,287L585,283ZM594,270.6L599,268.6L605,271L607,275L605,278L609,285L612,290L613.6,295L611,301L605,306L603.6,302L607,299L609,295L608,291L607,286L602,279L599,275L597,273ZM590,271.4L594,270.6L597,273L599,275L602,279L607,286L608,291L605,292L605,286.4L599,283L595,282L593,275L590,275.4ZM597,296L599,292.4L604.4,291.4L608.4,291.4L609,295.4L607,299L603.6,301.4L600,300L598,298ZM593,311L596,312.4L600,315L602,321L603,325L600,324L597,320L594.4,316ZM637,282L640,280.6L641.6,284L641,290L644,293L647,292L650,296L651,299L648,298.6L645,296L642,295L639,292L637.6,287ZM643,299L646,300L648,303L645,304ZM644,308L648,307L651,304.6L654,307L654,312L651.6,314L649,311L646,310ZM633,306L637,301L638,300L634.4,307ZM582.5,315.5L588,315L595,322.5L602.5,330L607.5,337.5L607,343.8L602.5,342.5L596.2,335L590,326.2L585,320ZM606.2,345L613.8,345.5L621.2,347L628.8,350L626.2,351.8L617.5,350L608.8,348ZM631.2,351.2L636.2,350.8L637,352.5L632.5,353ZM638.8,350.8L645,350L645.5,352L640,353ZM646.2,353.8L650,351.2L655.5,350.8L652.5,353.8L648,355.5ZM614.5,326.2L618.8,327L625,323.8L630,320L635,318.8L636.2,325L633.8,331.2L632,337.5L628.8,339.5L622.5,338L617.5,335L615,331.2ZM616.2,325L621.2,321.2L627.5,317L631.2,311.2L635,312.5L637.5,315.5L635.5,318L630,319.5L625,323.2L619.5,326.8ZM638.8,327.5L645,326.2L652,325L650,327.5L643.8,328.8L641.2,332.5L645,337.5L646.2,342.5L643.8,343L641.2,337.5L640,342.5L638,343.8L637,336.2ZM657,323.8L659,324.5L658.8,330L657.5,329.5ZM654.5,337L660,336.5L664.5,338L660,338.8ZM663.8,331.2L670,330.5L672.5,333L667.5,333.8ZM668.8,335L672.5,337.5L676.2,335L681.2,333.8L687.5,337L687,352.5L680,350L678.8,346.2L675,342.5L671.2,340ZM687.5,337L693.8,338.8L700,343.8L702.5,348.8L708.8,356.2L705,355.5L700,351.2L695,350L691.2,353L687,352.5ZM705,343L710,344.5L713.8,341.2L712.5,336.2L715.5,340L713.8,345L708.8,346.2ZM719.5,342.5L722.5,346.2L721.2,347L718.8,343.8ZM726.2,348L730,350L732.5,353L730,352ZM733,351.2L735,353.8L734.2,356.2ZM743.2,367.5L745,368.8L745,372.5L743.8,371.2ZM766.2,374.5L769.5,373.8L768.8,376.2L767,376.8ZM770,372.5L773.8,371.2L773,373ZM614.5,417.5L617.5,410L618.8,401.2L617.5,396.2L620,388.8L623.8,385L632.5,380L641.2,373.8L645,370L651.2,366.2L657.5,367.5L661.2,361.2L666.2,358.8L673.8,360L675,362.5L672.5,366.2L677.5,371.2L682.5,375L685,371.2L687.5,362.5L690,357.5L692.5,365L695,373.8L698.8,380L702.5,387.5L706.2,395L705,403.8L700,411.2L695,417.5L690,423.8L683.8,428.8L676.2,430.5L670,428.8L666.2,427.5L663.8,421.2L661.2,420L658.8,417.5L655,413.8L647.5,412.5L640,413.8L632.5,416.2L626.2,418.8L620,420.5ZM667.5,437L672.5,435.5L677,436.2L673.8,441.2L669.5,442.5ZM739.5,419.5L741.2,422.5L742.5,427.5L746.2,428L742.5,432.5L737,436.2L732.5,437L735,432.5L738,428.8L738.8,423.8ZM706.2,447L713.8,442.5L722.5,437.5L730,435L731.2,437L726.2,441.2L718.8,445L711.2,449.2L707.5,449.5ZM350.5,236L353.5,237L358.5,237.5L359.5,241.5L360.5,243.5L359,245L355,246.5L352,248.5L350,250.5L345.5,252.5L343,254.5L343.5,256L343,257.6L334.6,256.5L337.7,254L340.3,252.2L341.5,248.8L342,244.7L343.8,241.8L347,239.4ZM358.5,237.5L364,234.5L370,233.5L375,232.8L379,233L381,233.5L380.5,238L379.5,241L381,243L384,247L384.5,251L385,259L389,268L380,273L373,278L363,271L350,263L343.6,259L343.5,256L345.5,252.5L350,250.5L352,248.5L355,246.5L359,245L360.5,243.5L359.5,241.5ZM381.2,233.5L383,231.5L385.5,232L385,234L386.5,236L385.5,239L387,241.5L388.5,243L386,246L384.5,249L384,247L381,243L379.5,241L380.5,238ZM384.5,249L386,246L388.5,243L393,244.5L398,247L403,249L406.5,249.5L407.5,246L410,244L415,244.5L418,246L417.5,249L419,271L419,277L414,275L398,269L394,268L389,268L385,259ZM420,247.2L429,247.9L435.1,247.2L439.3,247.9L440.8,251.7L439.6,255.5L437.3,253.2L435.8,251.7L438.8,257L442.6,263.7L445.6,269.8L444.8,271.3L420,271.3L419,271L418,246ZM325,273L333.6,273L334.4,268L335,262.4L343.6,261.6L343.6,259L350,263L350,288L337,289L335,292L330,287L325,285L324,279ZM350,263L363,271L373,278L372,287L363,289L357,293L352,298L350,300L346,299L344,295L337,294L337,289L350,288ZM373,278L380,273L389,268L394,268L398,269L397,280L395,287L395,293L388,295L380,294L374,293L369,295L365,293L364,290L372,287ZM398,269L414,275L419,277L418,287L415,292L414,299L409,302L404,307L399,309L396,304L397,298L395,293L395,287L397,280ZM419,271L445,271L448,279L450,283L447,286L446,294L444,298L440,301L438,298L436,301L428,302L422,304L419,303L414,299L415,292L418,287L419,277ZM447,286L450,283L454,290L460,296L458,297L453,292L448,291ZM444,298L446,294L448,291L453,292L458,297L459.6,300.4L463,303L473,308L467,314L460,318L452,319L445,315.4L441,309L440,301ZM458.4,297L461,296L462,299L459.6,300.4ZM462,300L472,299L480,297.6L479,304L474,314L467,324L460,331L457.6,332L458,320L460,318L467,314L473,308L463,303ZM324,288L330,287L335,292L337,294.4L337,298L332,297L328,298L324,297L327,294L323.6,292.4ZM324.4,298L328,298.4L329,301L326,301.6ZM329,301L328.4,298L337,297.2L337.4,294.4L344,295.4L346.4,299.2L350,300.4L344,304L343,309L340,307L337,304L333,303.6L331,305ZM333,304L337,303.6L339,307.6L337,311L333.6,309ZM338,310L340,307L343,309L345,317L341,314ZM344,304L350,301L355,303L356,309L356.4,316L350,316.4L345,317L343.6,310ZM350,300L352,298L357,293L363,289.6L365,293.6L369,295.6L367,299L363,301L356,302L355,303L350.4,301.6ZM356,302L363,301L363.6,308L365,314L359,316.4L356.4,316L356,309ZM363.6,301.6L365.6,301L366.4,314L365,314L364,308ZM365.6,301L369,296L371,299L370,305L369,313.6L366.4,314ZM371,299L369.6,295.6L374,293L380,294L388,295L395,293L397,298L394,303L391,309L387,313L383,317L377,317.6L373,315L369,313.6L370,305ZM397,298L396,304L399,309L397,314L399,320L401,323L392,322.4L385,321.6L384,318L387,313L391,309L394,303ZM399,309L404,307L409,302L414,299L419,303L421,307L424,312L429,317L422,316L414,317L408,317L404,320L401,323L399,320L397,314ZM385,322L390,322.4L390,325.6L385,325.6ZM385,326L390,325.6L390,323L395,323.6L397,328L396,334L392,335L388,338L384,332ZM395,323.6L401,323L404,320L408,317L407,324L404,330L402,336L398,340L393,342L391,340L388,338L392,335L396,334L397,328ZM408,317L414,317L422,316L429,317L434,319L432,326L431,333L431,340L434,348L438,351L429,352L429,351L428,355L430,359L429,362L424,360L418,358L414,357L413,349L409,347L404,349L400,344.4L391.6,344.4L393,345L393,342L398,340L402,336L404,330L407,324ZM434,319L440,318.4L443,324L441,331L434,332L431.6,332.4L432,326ZM440,318.4L445,315.4L452,319L458,320L457.6,332L453,344L448,340L441,335L441,331L443,324ZM430,334L433.6,333L434,339L431,340ZM431,340L434,339L434.4,344L432.4,345ZM434,332L441,331L441,335L448,340L453,344L452,352L455,350L456,357L449,359L443,360L441,355L438,353L433,350L431,344L434,348L432.4,345L434.4,344L434,339ZM391.6,344.4L400,344.4L404,349L409,347L413,349L414,357L418,358L417,362L413,363L414,373L417,375L410,375.6L390,374L390,368L393,360L392.4,352ZM391,340L393,342L392.4,344.4L390.8,343ZM414,363L417,362L418,358L424,360L429,362L430,359L428,355L429,351L433,350L438,353L441,355L439,360L438,366L433,367L428,371L424,375L417,375L414,373ZM443,360L449,359L456,357L456,368L452,373L446,378L442,382L443,389L441,393L436,396L434,397L434,388L437,382L438,376L436,371L433,367L438,366L440,368L442,372L444.4,370L443,364ZM440,355L442.4,358L443,364L444.4,370L442,372L441,367L439,360ZM424,375L428,371L433,367L436,371L438,376L437,382L434,386L428,387L424,383L421,377ZM390,374L410,375.6L417,375L420,375.6L411,377L410,388L408,390L408,400L407,405L402,404L399,399L395,388L391.6,380ZM411,377L420,375.6L421,377L424,383L428,387L425,390L421,394L418,397L414,396L410,399L408,400L408,390L410,388ZM408,400L410,399L414,396L418,397L421,394L425,390L428,387L434,387L434,397L436,396L437,400L435,405L430,410L424,415L416,418L406,419.6L403,417L402,411L400,404L402,404L407,405ZM422.6,406L426,403.6L428.4,406.4L425.6,409ZM431.6,397L434,396L435,399L432.4,400.4ZM461,386L464,373L470,367L476,361L478,365L477,372L474,382L470,392L466,395.6L462,394ZM492.4,381.2L493.6,381.2L493.6,382.4L492.4,382.4Z" fill="none" stroke="#4a4036" stroke-opacity="0.55" stroke-width="0.4"/>
<!--/MAP-->
</g>
<g id="legend">
<rect x="157.5" y="537.5" width="47" height="11" fill="url(#hatch)" stroke="#c8c8c8" stroke-width="1"/>
<rect x="224" y="537" width="58.5" height="11" fill="#ffffcc"/>
<rect x="282.5" y="537" width="58.5" height="11" fill="#ffeda0"/>
<rect x="341" y="537" width="58.5" height="11" fill="#fed976"/>
<rect x="399.5" y="537" width="58.5" height="11" fill="#feb24c"/>
<rect x="458" y="537" width="58.5" height="11" fill="#fd8d3c"/>
<rect x="516.5" y="537" width="58.5" height="11" fill="#fc4e2a"/>
<rect x="575" y="537" width="59" height="11" fill="#e31a1c"/>
<path d="M634,537H688L692.5,542.5L688,548H634Z" fill="#b10026"/>
<path d="M224,537H688L692.5,542.5L688,548H224Z" fill="none" stroke="#999" stroke-width="0.6"/>
<g stroke="#999" stroke-width="0.7">
<line x1="224.2" y1="534" x2="224.2" y2="548"/>
<line x1="282.7" y1="534" x2="282.7" y2="548"/>
<line x1="341.2" y1="534" x2="341.2" y2="548"/>
<line x1="399.7" y1="534" x2="399.7" y2="548"/>
<line x1="458.2" y1="534" x2="458.2" y2="548"/>
<line x1="516.7" y1="534" x2="516.7" y2="548"/>
<line x1="575.2" y1="534" x2="575.2" y2="548"/>
<line x1="634.2" y1="534" x2="634.2" y2="548"/>
<line x1="181" y1="534" x2="181" y2="537"/>
</g>
</g>
</svg>
<div id="title">Share of people who smoke every day, 2012</div>
<div id="sub"><span>Estimates of the prevalence of daily smoking, defined as the percentage of men and women, of all ages, who</span><span>smoke daily.</span></div>
<div id="logo"><div style="top:5px">Our World</div><div style="top:17px">in Data</div></div>
<div class="lg" style="left:181px">No data</div>
<div class="lg" style="left:224.5px">0%</div>
<div class="lg" style="left:283px">5%</div>
<div class="lg" style="left:341.5px">10%</div>
<div class="lg" style="left:400px">15%</div>
<div class="lg" style="left:458.5px">20%</div>
<div class="lg" style="left:517px">25%</div>
<div class="lg" style="left:575.5px">30%</div>
<div class="lg" style="left:634.5px">35%</div>
<div id="foot-l"><b>Data source:</b> Institute for Health Metrics and Evaluation (2012)</div>
<div id="foot-r">OurWorldinData.org/smoking | CC BY</div>
</body>
</html>
